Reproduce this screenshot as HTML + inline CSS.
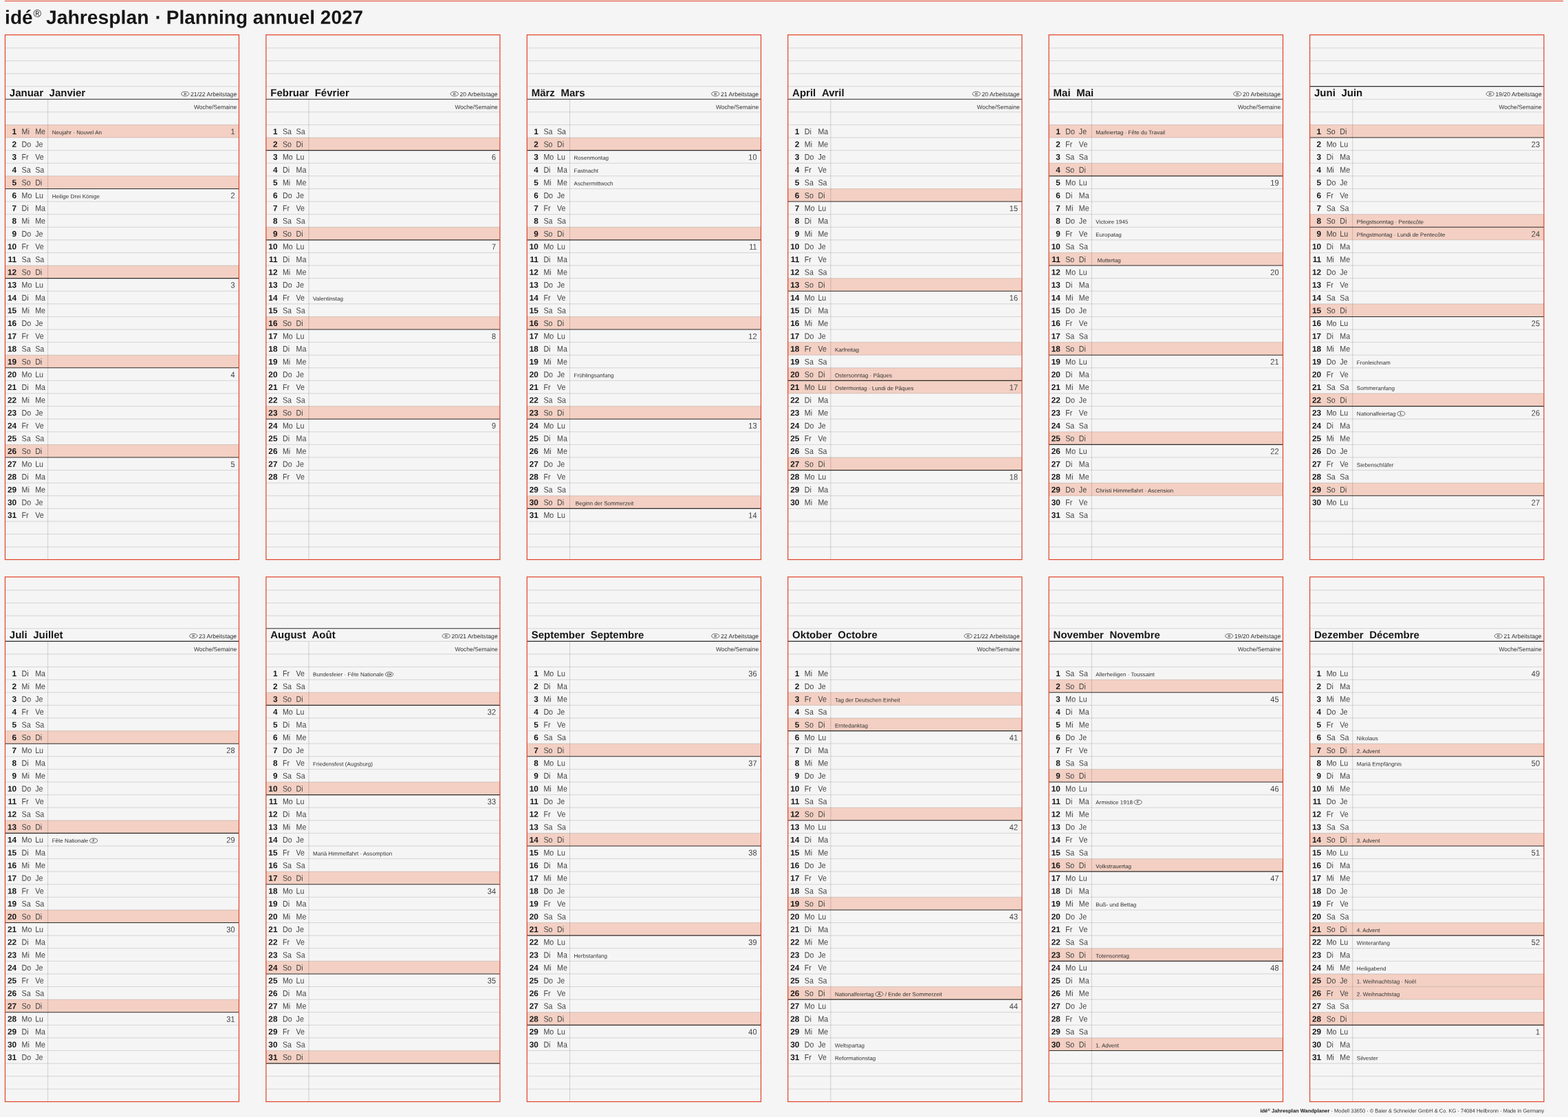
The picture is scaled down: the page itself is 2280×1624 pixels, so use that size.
<!DOCTYPE html>
<html lang="de">
<head>
<meta charset="utf-8">
<title>idé Jahresplan · Planning annuel 2027</title>
<style>
html,body{margin:0;padding:0;background:#f5f5f5}
body{width:2280px;height:1624px;overflow:hidden;font-family:"Liberation Sans",Arial,Helvetica,sans-serif}
svg{display:block;position:absolute;left:0;top:0}
svg text{font-family:"Liberation Sans",Arial,Helvetica,sans-serif;white-space:pre;text-rendering:geometricPrecision}
.e{text-anchor:end}
.ti{font-size:28px;font-weight:700;fill:#161616}
.mn{font-size:15px;font-weight:700;fill:#161616}
.dn{font-size:11.8px;font-weight:700;fill:#161616}
.wd{font-size:12px;fill:#454545}
.wk{font-size:11.8px;fill:#454545}
.ho{font-size:8.1px;fill:#303030}
.sm{font-size:8.5px;fill:#303030}
.ft{font-size:7.5px;fill:#303030}
.rg{font-size:15.5px;fill:#161616}
</style>
</head>
<body>
<svg width="2280" height="1624" viewBox="0 0 2280 1624">
<rect width="2280" height="1624" fill="#f5f5f5"/>
<path d="M6.9 1.5H2273" stroke="#e14228" stroke-width="1.15" fill="none"/>
<g fill="#f3d0c3">
<rect x="7.43" y="181.46" width="340.05" height="18.6"/>
<rect x="7.43" y="255.85" width="340.05" height="18.6"/>
<rect x="7.43" y="386.03" width="340.05" height="18.6"/>
<rect x="7.43" y="516.22" width="340.05" height="18.6"/>
<rect x="7.43" y="646.41" width="340.05" height="18.6"/>
<rect x="386.86" y="200.05" width="340.12" height="18.6"/>
<rect x="386.86" y="330.24" width="340.12" height="18.6"/>
<rect x="386.86" y="460.43" width="340.12" height="18.6"/>
<rect x="386.86" y="590.61" width="340.12" height="18.6"/>
<rect x="766.29" y="200.05" width="340.19" height="18.6"/>
<rect x="766.29" y="330.24" width="340.19" height="18.6"/>
<rect x="766.29" y="460.43" width="340.19" height="18.6"/>
<rect x="766.29" y="590.61" width="340.19" height="18.6"/>
<rect x="766.29" y="720.8" width="340.19" height="18.6"/>
<rect x="1145.72" y="274.45" width="340.26" height="18.6"/>
<rect x="1145.72" y="404.63" width="340.26" height="18.6"/>
<rect x="1145.72" y="497.62" width="340.26" height="18.6"/>
<rect x="1145.72" y="534.82" width="340.26" height="18.6"/>
<rect x="1145.72" y="553.42" width="340.26" height="18.6"/>
<rect x="1145.72" y="665" width="340.26" height="18.6"/>
<rect x="1525.15" y="181.46" width="340.33" height="18.6"/>
<rect x="1525.15" y="237.25" width="340.33" height="18.6"/>
<rect x="1525.15" y="367.44" width="340.33" height="18.6"/>
<rect x="1525.15" y="497.62" width="340.33" height="18.6"/>
<rect x="1525.15" y="627.81" width="340.33" height="18.6"/>
<rect x="1525.15" y="702.2" width="340.33" height="18.6"/>
<rect x="1904.58" y="181.46" width="340.4" height="18.6"/>
<rect x="1904.58" y="311.64" width="340.4" height="18.6"/>
<rect x="1904.58" y="330.24" width="340.4" height="18.6"/>
<rect x="1904.58" y="441.83" width="340.4" height="18.6"/>
<rect x="1904.58" y="572.01" width="340.4" height="18.6"/>
<rect x="1904.58" y="702.2" width="340.4" height="18.6"/>
<rect x="7.43" y="1062.59" width="340.05" height="18.6"/>
<rect x="7.43" y="1192.77" width="340.05" height="18.6"/>
<rect x="7.43" y="1322.96" width="340.05" height="18.6"/>
<rect x="7.43" y="1453.14" width="340.05" height="18.6"/>
<rect x="386.86" y="1006.79" width="340.12" height="18.6"/>
<rect x="386.86" y="1136.98" width="340.12" height="18.6"/>
<rect x="386.86" y="1267.16" width="340.12" height="18.6"/>
<rect x="386.86" y="1397.35" width="340.12" height="18.6"/>
<rect x="386.86" y="1527.54" width="340.12" height="18.6"/>
<rect x="766.29" y="1081.18" width="340.19" height="18.6"/>
<rect x="766.29" y="1211.37" width="340.19" height="18.6"/>
<rect x="766.29" y="1341.56" width="340.19" height="18.6"/>
<rect x="766.29" y="1471.74" width="340.19" height="18.6"/>
<rect x="1145.72" y="1006.79" width="340.26" height="18.6"/>
<rect x="1145.72" y="1043.99" width="340.26" height="18.6"/>
<rect x="1145.72" y="1174.17" width="340.26" height="18.6"/>
<rect x="1145.72" y="1304.36" width="340.26" height="18.6"/>
<rect x="1145.72" y="1434.55" width="340.26" height="18.6"/>
<rect x="1525.15" y="988.19" width="340.33" height="18.6"/>
<rect x="1525.15" y="1118.38" width="340.33" height="18.6"/>
<rect x="1525.15" y="1248.57" width="340.33" height="18.6"/>
<rect x="1525.15" y="1378.75" width="340.33" height="18.6"/>
<rect x="1525.15" y="1508.94" width="340.33" height="18.6"/>
<rect x="1904.58" y="1081.18" width="340.4" height="18.6"/>
<rect x="1904.58" y="1211.37" width="340.4" height="18.6"/>
<rect x="1904.58" y="1341.56" width="340.4" height="18.6"/>
<rect x="1904.58" y="1415.95" width="340.4" height="18.6"/>
<rect x="1904.58" y="1434.55" width="340.4" height="18.6"/>
<rect x="1904.58" y="1471.74" width="340.4" height="18.6"/>
</g>
<path fill="none" stroke="rgba(0,0,0,0.15)" stroke-width="0.9" d="M7.43 69.87H347.48M7.43 88.47H347.48M7.43 107.06H347.48M7.43 125.66H347.48M7.43 162.86H347.48M7.43 181.46H347.48M7.43 200.05H347.48M7.43 218.65H347.48M7.43 237.25H347.48M7.43 255.85H347.48M7.43 293.04H347.48M7.43 311.64H347.48M7.43 330.24H347.48M7.43 348.84H347.48M7.43 367.44H347.48M7.43 386.03H347.48M7.43 423.23H347.48M7.43 441.83H347.48M7.43 460.43H347.48M7.43 479.02H347.48M7.43 497.62H347.48M7.43 516.22H347.48M7.43 553.42H347.48M7.43 572.01H347.48M7.43 590.61H347.48M7.43 609.21H347.48M7.43 627.81H347.48M7.43 646.41H347.48M7.43 683.6H347.48M7.43 702.2H347.48M7.43 720.8H347.48M7.43 739.4H347.48M7.43 757.99H347.48M7.43 776.59H347.48M7.43 795.19H347.48M386.86 69.87H726.98M386.86 88.47H726.98M386.86 107.06H726.98M386.86 125.66H726.98M386.86 162.86H726.98M386.86 181.46H726.98M386.86 200.05H726.98M386.86 237.25H726.98M386.86 255.85H726.98M386.86 274.45H726.98M386.86 293.04H726.98M386.86 311.64H726.98M386.86 330.24H726.98M386.86 367.44H726.98M386.86 386.03H726.98M386.86 404.63H726.98M386.86 423.23H726.98M386.86 441.83H726.98M386.86 460.43H726.98M386.86 497.62H726.98M386.86 516.22H726.98M386.86 534.82H726.98M386.86 553.42H726.98M386.86 572.01H726.98M386.86 590.61H726.98M386.86 627.81H726.98M386.86 646.41H726.98M386.86 665H726.98M386.86 683.6H726.98M386.86 702.2H726.98M386.86 720.8H726.98M386.86 739.4H726.98M386.86 757.99H726.98M386.86 776.59H726.98M386.86 795.19H726.98M766.29 69.87H1106.48M766.29 88.47H1106.48M766.29 107.06H1106.48M766.29 125.66H1106.48M766.29 162.86H1106.48M766.29 181.46H1106.48M766.29 200.05H1106.48M766.29 237.25H1106.48M766.29 255.85H1106.48M766.29 274.45H1106.48M766.29 293.04H1106.48M766.29 311.64H1106.48M766.29 330.24H1106.48M766.29 367.44H1106.48M766.29 386.03H1106.48M766.29 404.63H1106.48M766.29 423.23H1106.48M766.29 441.83H1106.48M766.29 460.43H1106.48M766.29 497.62H1106.48M766.29 516.22H1106.48M766.29 534.82H1106.48M766.29 553.42H1106.48M766.29 572.01H1106.48M766.29 590.61H1106.48M766.29 627.81H1106.48M766.29 646.41H1106.48M766.29 665H1106.48M766.29 683.6H1106.48M766.29 702.2H1106.48M766.29 720.8H1106.48M766.29 757.99H1106.48M766.29 776.59H1106.48M766.29 795.19H1106.48M1145.72 69.87H1485.98M1145.72 88.47H1485.98M1145.72 107.06H1485.98M1145.72 125.66H1485.98M1145.72 162.86H1485.98M1145.72 181.46H1485.98M1145.72 200.05H1485.98M1145.72 218.65H1485.98M1145.72 237.25H1485.98M1145.72 255.85H1485.98M1145.72 274.45H1485.98M1145.72 311.64H1485.98M1145.72 330.24H1485.98M1145.72 348.84H1485.98M1145.72 367.44H1485.98M1145.72 386.03H1485.98M1145.72 404.63H1485.98M1145.72 441.83H1485.98M1145.72 460.43H1485.98M1145.72 479.02H1485.98M1145.72 497.62H1485.98M1145.72 516.22H1485.98M1145.72 534.82H1485.98M1145.72 572.01H1485.98M1145.72 590.61H1485.98M1145.72 609.21H1485.98M1145.72 627.81H1485.98M1145.72 646.41H1485.98M1145.72 665H1485.98M1145.72 702.2H1485.98M1145.72 720.8H1485.98M1145.72 739.4H1485.98M1145.72 757.99H1485.98M1145.72 776.59H1485.98M1145.72 795.19H1485.98M1525.15 69.87H1865.48M1525.15 88.47H1865.48M1525.15 107.06H1865.48M1525.15 125.66H1865.48M1525.15 162.86H1865.48M1525.15 181.46H1865.48M1525.15 200.05H1865.48M1525.15 218.65H1865.48M1525.15 237.25H1865.48M1525.15 274.45H1865.48M1525.15 293.04H1865.48M1525.15 311.64H1865.48M1525.15 330.24H1865.48M1525.15 348.84H1865.48M1525.15 367.44H1865.48M1525.15 404.63H1865.48M1525.15 423.23H1865.48M1525.15 441.83H1865.48M1525.15 460.43H1865.48M1525.15 479.02H1865.48M1525.15 497.62H1865.48M1525.15 534.82H1865.48M1525.15 553.42H1865.48M1525.15 572.01H1865.48M1525.15 590.61H1865.48M1525.15 609.21H1865.48M1525.15 627.81H1865.48M1525.15 665H1865.48M1525.15 683.6H1865.48M1525.15 702.2H1865.48M1525.15 720.8H1865.48M1525.15 739.4H1865.48M1525.15 757.99H1865.48M1525.15 776.59H1865.48M1525.15 795.19H1865.48M1904.58 69.87H2244.98M1904.58 88.47H2244.98M1904.58 107.06H2244.98M1904.58 144.26H2244.98M1904.58 162.86H2244.98M1904.58 181.46H2244.98M1904.58 218.65H2244.98M1904.58 237.25H2244.98M1904.58 255.85H2244.98M1904.58 274.45H2244.98M1904.58 293.04H2244.98M1904.58 311.64H2244.98M1904.58 348.84H2244.98M1904.58 367.44H2244.98M1904.58 386.03H2244.98M1904.58 404.63H2244.98M1904.58 423.23H2244.98M1904.58 441.83H2244.98M1904.58 479.02H2244.98M1904.58 497.62H2244.98M1904.58 516.22H2244.98M1904.58 534.82H2244.98M1904.58 553.42H2244.98M1904.58 572.01H2244.98M1904.58 609.21H2244.98M1904.58 627.81H2244.98M1904.58 646.41H2244.98M1904.58 665H2244.98M1904.58 683.6H2244.98M1904.58 702.2H2244.98M1904.58 739.4H2244.98M1904.58 757.99H2244.98M1904.58 776.59H2244.98M1904.58 795.19H2244.98M7.43 858.01H347.48M7.43 876.61H347.48M7.43 895.2H347.48M7.43 913.8H347.48M7.43 951H347.48M7.43 969.6H347.48M7.43 988.19H347.48M7.43 1006.79H347.48M7.43 1025.39H347.48M7.43 1043.99H347.48M7.43 1062.59H347.48M7.43 1099.78H347.48M7.43 1118.38H347.48M7.43 1136.98H347.48M7.43 1155.58H347.48M7.43 1174.17H347.48M7.43 1192.77H347.48M7.43 1229.97H347.48M7.43 1248.57H347.48M7.43 1267.16H347.48M7.43 1285.76H347.48M7.43 1304.36H347.48M7.43 1322.96H347.48M7.43 1360.15H347.48M7.43 1378.75H347.48M7.43 1397.35H347.48M7.43 1415.95H347.48M7.43 1434.55H347.48M7.43 1453.14H347.48M7.43 1490.34H347.48M7.43 1508.94H347.48M7.43 1527.54H347.48M7.43 1546.13H347.48M7.43 1564.73H347.48M7.43 1583.33H347.48M386.86 858.01H726.98M386.86 876.61H726.98M386.86 895.2H726.98M386.86 932.4H726.98M386.86 951H726.98M386.86 969.6H726.98M386.86 988.19H726.98M386.86 1006.79H726.98M386.86 1043.99H726.98M386.86 1062.59H726.98M386.86 1081.18H726.98M386.86 1099.78H726.98M386.86 1118.38H726.98M386.86 1136.98H726.98M386.86 1174.17H726.98M386.86 1192.77H726.98M386.86 1211.37H726.98M386.86 1229.97H726.98M386.86 1248.57H726.98M386.86 1267.16H726.98M386.86 1304.36H726.98M386.86 1322.96H726.98M386.86 1341.56H726.98M386.86 1360.15H726.98M386.86 1378.75H726.98M386.86 1397.35H726.98M386.86 1434.55H726.98M386.86 1453.14H726.98M386.86 1471.74H726.98M386.86 1490.34H726.98M386.86 1508.94H726.98M386.86 1527.54H726.98M386.86 1564.73H726.98M386.86 1583.33H726.98M766.29 858.01H1106.48M766.29 876.61H1106.48M766.29 895.2H1106.48M766.29 913.8H1106.48M766.29 951H1106.48M766.29 969.6H1106.48M766.29 988.19H1106.48M766.29 1006.79H1106.48M766.29 1025.39H1106.48M766.29 1043.99H1106.48M766.29 1062.59H1106.48M766.29 1081.18H1106.48M766.29 1118.38H1106.48M766.29 1136.98H1106.48M766.29 1155.58H1106.48M766.29 1174.17H1106.48M766.29 1192.77H1106.48M766.29 1211.37H1106.48M766.29 1248.57H1106.48M766.29 1267.16H1106.48M766.29 1285.76H1106.48M766.29 1304.36H1106.48M766.29 1322.96H1106.48M766.29 1341.56H1106.48M766.29 1378.75H1106.48M766.29 1397.35H1106.48M766.29 1415.95H1106.48M766.29 1434.55H1106.48M766.29 1453.14H1106.48M766.29 1471.74H1106.48M766.29 1508.94H1106.48M766.29 1527.54H1106.48M766.29 1546.13H1106.48M766.29 1564.73H1106.48M766.29 1583.33H1106.48M1145.72 858.01H1485.98M1145.72 876.61H1485.98M1145.72 895.2H1485.98M1145.72 913.8H1485.98M1145.72 951H1485.98M1145.72 969.6H1485.98M1145.72 988.19H1485.98M1145.72 1006.79H1485.98M1145.72 1025.39H1485.98M1145.72 1043.99H1485.98M1145.72 1081.18H1485.98M1145.72 1099.78H1485.98M1145.72 1118.38H1485.98M1145.72 1136.98H1485.98M1145.72 1155.58H1485.98M1145.72 1174.17H1485.98M1145.72 1211.37H1485.98M1145.72 1229.97H1485.98M1145.72 1248.57H1485.98M1145.72 1267.16H1485.98M1145.72 1285.76H1485.98M1145.72 1304.36H1485.98M1145.72 1341.56H1485.98M1145.72 1360.15H1485.98M1145.72 1378.75H1485.98M1145.72 1397.35H1485.98M1145.72 1415.95H1485.98M1145.72 1434.55H1485.98M1145.72 1471.74H1485.98M1145.72 1490.34H1485.98M1145.72 1508.94H1485.98M1145.72 1527.54H1485.98M1145.72 1546.13H1485.98M1145.72 1564.73H1485.98M1145.72 1583.33H1485.98M1525.15 858.01H1865.48M1525.15 876.61H1865.48M1525.15 895.2H1865.48M1525.15 913.8H1865.48M1525.15 951H1865.48M1525.15 969.6H1865.48M1525.15 988.19H1865.48M1525.15 1025.39H1865.48M1525.15 1043.99H1865.48M1525.15 1062.59H1865.48M1525.15 1081.18H1865.48M1525.15 1099.78H1865.48M1525.15 1118.38H1865.48M1525.15 1155.58H1865.48M1525.15 1174.17H1865.48M1525.15 1192.77H1865.48M1525.15 1211.37H1865.48M1525.15 1229.97H1865.48M1525.15 1248.57H1865.48M1525.15 1285.76H1865.48M1525.15 1304.36H1865.48M1525.15 1322.96H1865.48M1525.15 1341.56H1865.48M1525.15 1360.15H1865.48M1525.15 1378.75H1865.48M1525.15 1415.95H1865.48M1525.15 1434.55H1865.48M1525.15 1453.14H1865.48M1525.15 1471.74H1865.48M1525.15 1490.34H1865.48M1525.15 1508.94H1865.48M1525.15 1546.13H1865.48M1525.15 1564.73H1865.48M1525.15 1583.33H1865.48M1904.58 858.01H2244.98M1904.58 876.61H2244.98M1904.58 895.2H2244.98M1904.58 913.8H2244.98M1904.58 951H2244.98M1904.58 969.6H2244.98M1904.58 988.19H2244.98M1904.58 1006.79H2244.98M1904.58 1025.39H2244.98M1904.58 1043.99H2244.98M1904.58 1062.59H2244.98M1904.58 1081.18H2244.98M1904.58 1118.38H2244.98M1904.58 1136.98H2244.98M1904.58 1155.58H2244.98M1904.58 1174.17H2244.98M1904.58 1192.77H2244.98M1904.58 1211.37H2244.98M1904.58 1248.57H2244.98M1904.58 1267.16H2244.98M1904.58 1285.76H2244.98M1904.58 1304.36H2244.98M1904.58 1322.96H2244.98M1904.58 1341.56H2244.98M1904.58 1378.75H2244.98M1904.58 1397.35H2244.98M1904.58 1415.95H2244.98M1904.58 1434.55H2244.98M1904.58 1453.14H2244.98M1904.58 1471.74H2244.98M1904.58 1508.94H2244.98M1904.58 1527.54H2244.98M1904.58 1546.13H2244.98M1904.58 1564.73H2244.98M1904.58 1583.33H2244.98"/>
<path fill="none" stroke="rgba(0,0,0,0.2)" stroke-width="0.8" d="M69.63 144.26V813.79M449.06 144.26V813.79M828.49 144.26V813.79M1207.92 144.26V813.79M1587.35 144.26V813.79M1966.78 144.26V813.79M69.63 932.4V1601.93M449.06 932.4V1601.93M828.49 932.4V1601.93M1207.92 932.4V1601.93M1587.35 932.4V1601.93M1966.78 932.4V1601.93"/>
<path fill="none" stroke="#2b2b2b" stroke-width="1.1" d="M7.43 144.26H347.48M7.43 274.45H347.48M7.43 404.63H347.48M7.43 534.82H347.48M7.43 665H347.48M386.86 144.26H726.98M386.86 218.65H726.98M386.86 348.84H726.98M386.86 479.02H726.98M386.86 609.21H726.98M766.29 144.26H1106.48M766.29 218.65H1106.48M766.29 348.84H1106.48M766.29 479.02H1106.48M766.29 609.21H1106.48M766.29 739.4H1106.48M1145.72 144.26H1485.98M1145.72 293.04H1485.98M1145.72 423.23H1485.98M1145.72 553.42H1485.98M1145.72 683.6H1485.98M1525.15 144.26H1865.48M1525.15 255.85H1865.48M1525.15 386.03H1865.48M1525.15 516.22H1865.48M1525.15 646.41H1865.48M1904.58 125.66H2244.98M1904.58 200.05H2244.98M1904.58 330.24H2244.98M1904.58 460.43H2244.98M1904.58 590.61H2244.98M1904.58 720.8H2244.98M7.43 932.4H347.48M7.43 1081.18H347.48M7.43 1211.37H347.48M7.43 1341.56H347.48M7.43 1471.74H347.48M386.86 913.8H726.98M386.86 1025.39H726.98M386.86 1155.58H726.98M386.86 1285.76H726.98M386.86 1415.95H726.98M386.86 1546.13H726.98M766.29 932.4H1106.48M766.29 1099.78H1106.48M766.29 1229.97H1106.48M766.29 1360.15H1106.48M766.29 1490.34H1106.48M1145.72 932.4H1485.98M1145.72 1062.59H1485.98M1145.72 1192.77H1485.98M1145.72 1322.96H1485.98M1145.72 1453.14H1485.98M1525.15 932.4H1865.48M1525.15 1006.79H1865.48M1525.15 1136.98H1865.48M1525.15 1267.16H1865.48M1525.15 1397.35H1865.48M1525.15 1527.54H1865.48M1904.58 932.4H2244.98M1904.58 1099.78H2244.98M1904.58 1229.97H2244.98M1904.58 1360.15H2244.98M1904.58 1490.34H2244.98"/>
<g fill="none" stroke="#e14228" stroke-width="1.2">
<rect x="7.43" y="50.67" width="340.05" height="762.9"/>
<rect x="386.86" y="50.67" width="340.12" height="762.9"/>
<rect x="766.29" y="50.67" width="340.19" height="762.9"/>
<rect x="1145.72" y="50.67" width="340.26" height="762.9"/>
<rect x="1525.15" y="50.67" width="340.33" height="762.9"/>
<rect x="1904.58" y="50.67" width="340.4" height="762.9"/>
<rect x="7.43" y="838.81" width="340.05" height="762.9"/>
<rect x="386.86" y="838.81" width="340.12" height="762.9"/>
<rect x="766.29" y="838.81" width="340.19" height="762.9"/>
<rect x="1145.72" y="838.81" width="340.26" height="762.9"/>
<rect x="1525.15" y="838.81" width="340.33" height="762.9"/>
<rect x="1904.58" y="838.81" width="340.4" height="762.9"/>
</g>
<g>
<ellipse cx="269.25" cy="136.46" rx="5.7" ry="3.15" fill="none" stroke="#303030" stroke-width="0.7"/><text transform="translate(269.35 137.86) scale(1.25 1)" font-size="4" font-weight="700" text-anchor="middle" fill="#161616">D</text>
<ellipse cx="660.78" cy="136.46" rx="5.7" ry="3.15" fill="none" stroke="#303030" stroke-width="0.7"/><text transform="translate(660.88 137.86) scale(1.25 1)" font-size="4" font-weight="700" text-anchor="middle" fill="#161616">D</text>
<ellipse cx="1040.28" cy="136.46" rx="5.7" ry="3.15" fill="none" stroke="#303030" stroke-width="0.7"/><text transform="translate(1040.38 137.86) scale(1.25 1)" font-size="4" font-weight="700" text-anchor="middle" fill="#161616">D</text>
<ellipse cx="1419.78" cy="136.46" rx="5.7" ry="3.15" fill="none" stroke="#303030" stroke-width="0.7"/><text transform="translate(1419.88 137.86) scale(1.25 1)" font-size="4" font-weight="700" text-anchor="middle" fill="#161616">D</text>
<ellipse cx="1799.28" cy="136.46" rx="5.7" ry="3.15" fill="none" stroke="#303030" stroke-width="0.7"/><text transform="translate(1799.38 137.86) scale(1.25 1)" font-size="4" font-weight="700" text-anchor="middle" fill="#161616">D</text>
<ellipse cx="2166.75" cy="136.46" rx="5.7" ry="3.15" fill="none" stroke="#303030" stroke-width="0.7"/><text transform="translate(2166.85 137.86) scale(1.25 1)" font-size="4" font-weight="700" text-anchor="middle" fill="#161616">D</text>
<ellipse cx="2037.32" cy="601.41" rx="5.7" ry="3.35" fill="none" stroke="#303030" stroke-width="0.7"/><text x="2037.32" y="603.43" font-size="5.6" font-weight="700" text-anchor="middle" fill="#303030">L</text>
<ellipse cx="281.28" cy="924.6" rx="5.7" ry="3.15" fill="none" stroke="#303030" stroke-width="0.7"/><text transform="translate(281.38 926) scale(1.25 1)" font-size="4" font-weight="700" text-anchor="middle" fill="#161616">D</text>
<ellipse cx="136.11" cy="1222.17" rx="5.7" ry="3.35" fill="none" stroke="#303030" stroke-width="0.7"/><text x="136.11" y="1224.18" font-size="5.6" font-weight="700" text-anchor="middle" fill="#303030">F</text>
<ellipse cx="648.75" cy="924.6" rx="5.7" ry="3.15" fill="none" stroke="#303030" stroke-width="0.7"/><text transform="translate(648.85 926) scale(1.25 1)" font-size="4" font-weight="700" text-anchor="middle" fill="#161616">D</text>
<ellipse cx="565.97" cy="980.39" rx="5.7" ry="3.35" fill="none" stroke="#303030" stroke-width="0.7"/><text x="565.97" y="982.05" font-size="4.6" font-weight="700" text-anchor="middle" fill="#303030">CH</text>
<ellipse cx="1040.28" cy="924.6" rx="5.7" ry="3.15" fill="none" stroke="#303030" stroke-width="0.7"/><text transform="translate(1040.38 926) scale(1.25 1)" font-size="4" font-weight="700" text-anchor="middle" fill="#161616">D</text>
<ellipse cx="1407.75" cy="924.6" rx="5.7" ry="3.15" fill="none" stroke="#303030" stroke-width="0.7"/><text transform="translate(1407.85 926) scale(1.25 1)" font-size="4" font-weight="700" text-anchor="middle" fill="#161616">D</text>
<ellipse cx="1278.46" cy="1445.34" rx="5.7" ry="3.35" fill="none" stroke="#303030" stroke-width="0.7"/><text x="1278.46" y="1447.36" font-size="5.6" font-weight="700" text-anchor="middle" fill="#303030">A</text>
<ellipse cx="1787.25" cy="924.6" rx="5.7" ry="3.15" fill="none" stroke="#303030" stroke-width="0.7"/><text transform="translate(1787.35 926) scale(1.25 1)" font-size="4" font-weight="700" text-anchor="middle" fill="#161616">D</text>
<ellipse cx="1654.72" cy="1166.37" rx="5.7" ry="3.35" fill="none" stroke="#303030" stroke-width="0.7"/><text x="1654.72" y="1168.39" font-size="5.6" font-weight="700" text-anchor="middle" fill="#303030">F</text>
<ellipse cx="2178.78" cy="924.6" rx="5.7" ry="3.15" fill="none" stroke="#303030" stroke-width="0.7"/><text transform="translate(2178.88 926) scale(1.25 1)" font-size="4" font-weight="700" text-anchor="middle" fill="#161616">D</text>
</g>
<text class="ti" transform="matrix(1 0.0005 0 1 7.1 34.65)">idé</text>
<text class="rg" transform="matrix(1 0.0005 0 1 48.4 24.7)">®</text>
<text class="ti" transform="matrix(1.01 0.0005 0 1 67.1 34.65)">Jahresplan</text>
<text class="ti" transform="matrix(1 0.0005 0 1 225.53 34.65)">·</text>
<text class="ti" transform="matrix(1 0.0005 0 1 241.83 34.65)">Planning annuel 2027</text>
<text class="mn" transform="matrix(1 0.0005 0 1 13.83 139.96)">Januar</text>
<text class="mn" transform="matrix(1 0.0005 0 1 71.62 139.96)">Janvier</text>
<text class="sm e" style="font-size:8.65px" transform="matrix(1 0.0005 0 1 344.18 139.96)">21/22 Arbeitstage</text>
<text class="sm e" transform="matrix(1 0.0005 0 1 344.18 158.56)">Woche/Semaine</text>
<text class="dn e" transform="matrix(1 0.0005 0 1 24.03 195.15)">1</text>
<text class="wd" transform="matrix(0.89 0.0005 0 1 31.53 195.15)">Mi</text>
<text class="wd" transform="matrix(0.89 0.0005 0 1 51.13 195.15)">Me</text>
<text class="wk e" transform="matrix(0.93 0.0005 0 1 341.58 195.35)">1</text>
<text class="ho" transform="matrix(1 0.0005 0 1 75.63 195.15)">Neujahr · Nouvel An</text>
<text class="dn e" transform="matrix(1 0.0005 0 1 24.03 213.75)">2</text>
<text class="wd" transform="matrix(0.89 0.0005 0 1 31.53 213.75)">Do</text>
<text class="wd" transform="matrix(0.89 0.0005 0 1 51.13 213.75)">Je</text>
<text class="dn e" transform="matrix(1 0.0005 0 1 24.03 232.35)">3</text>
<text class="wd" transform="matrix(0.89 0.0005 0 1 31.53 232.35)">Fr</text>
<text class="wd" transform="matrix(0.89 0.0005 0 1 51.13 232.35)">Ve</text>
<text class="dn e" transform="matrix(1 0.0005 0 1 24.03 250.95)">4</text>
<text class="wd" transform="matrix(0.89 0.0005 0 1 31.53 250.95)">Sa</text>
<text class="wd" transform="matrix(0.89 0.0005 0 1 51.13 250.95)">Sa</text>
<text class="dn e" transform="matrix(1 0.0005 0 1 24.03 269.55)">5</text>
<text class="wd" transform="matrix(0.89 0.0005 0 1 31.53 269.55)">So</text>
<text class="wd" transform="matrix(0.89 0.0005 0 1 51.13 269.55)">Di</text>
<text class="dn e" transform="matrix(1 0.0005 0 1 24.03 288.14)">6</text>
<text class="wd" transform="matrix(0.89 0.0005 0 1 31.53 288.14)">Mo</text>
<text class="wd" transform="matrix(0.89 0.0005 0 1 51.13 288.14)">Lu</text>
<text class="wk e" transform="matrix(0.93 0.0005 0 1 341.58 288.34)">2</text>
<text class="ho" transform="matrix(1 0.0005 0 1 75.63 288.14)">Heilige Drei Könige</text>
<text class="dn e" transform="matrix(1 0.0005 0 1 24.03 306.74)">7</text>
<text class="wd" transform="matrix(0.89 0.0005 0 1 31.53 306.74)">Di</text>
<text class="wd" transform="matrix(0.89 0.0005 0 1 51.13 306.74)">Ma</text>
<text class="dn e" transform="matrix(1 0.0005 0 1 24.03 325.34)">8</text>
<text class="wd" transform="matrix(0.89 0.0005 0 1 31.53 325.34)">Mi</text>
<text class="wd" transform="matrix(0.89 0.0005 0 1 51.13 325.34)">Me</text>
<text class="dn e" transform="matrix(1 0.0005 0 1 24.03 343.94)">9</text>
<text class="wd" transform="matrix(0.89 0.0005 0 1 31.53 343.94)">Do</text>
<text class="wd" transform="matrix(0.89 0.0005 0 1 51.13 343.94)">Je</text>
<text class="dn e" transform="matrix(1 0.0005 0 1 24.03 362.54)">10</text>
<text class="wd" transform="matrix(0.89 0.0005 0 1 31.53 362.54)">Fr</text>
<text class="wd" transform="matrix(0.89 0.0005 0 1 51.13 362.54)">Ve</text>
<text class="dn e" transform="matrix(1 0.0005 0 1 24.03 381.13)">11</text>
<text class="wd" transform="matrix(0.89 0.0005 0 1 31.53 381.13)">Sa</text>
<text class="wd" transform="matrix(0.89 0.0005 0 1 51.13 381.13)">Sa</text>
<text class="dn e" transform="matrix(1 0.0005 0 1 24.03 399.73)">12</text>
<text class="wd" transform="matrix(0.89 0.0005 0 1 31.53 399.73)">So</text>
<text class="wd" transform="matrix(0.89 0.0005 0 1 51.13 399.73)">Di</text>
<text class="dn e" transform="matrix(1 0.0005 0 1 24.03 418.33)">13</text>
<text class="wd" transform="matrix(0.89 0.0005 0 1 31.53 418.33)">Mo</text>
<text class="wd" transform="matrix(0.89 0.0005 0 1 51.13 418.33)">Lu</text>
<text class="wk e" transform="matrix(0.93 0.0005 0 1 341.58 418.53)">3</text>
<text class="dn e" transform="matrix(1 0.0005 0 1 24.03 436.93)">14</text>
<text class="wd" transform="matrix(0.89 0.0005 0 1 31.53 436.93)">Di</text>
<text class="wd" transform="matrix(0.89 0.0005 0 1 51.13 436.93)">Ma</text>
<text class="dn e" transform="matrix(1 0.0005 0 1 24.03 455.53)">15</text>
<text class="wd" transform="matrix(0.89 0.0005 0 1 31.53 455.53)">Mi</text>
<text class="wd" transform="matrix(0.89 0.0005 0 1 51.13 455.53)">Me</text>
<text class="dn e" transform="matrix(1 0.0005 0 1 24.03 474.12)">16</text>
<text class="wd" transform="matrix(0.89 0.0005 0 1 31.53 474.12)">Do</text>
<text class="wd" transform="matrix(0.89 0.0005 0 1 51.13 474.12)">Je</text>
<text class="dn e" transform="matrix(1 0.0005 0 1 24.03 492.72)">17</text>
<text class="wd" transform="matrix(0.89 0.0005 0 1 31.53 492.72)">Fr</text>
<text class="wd" transform="matrix(0.89 0.0005 0 1 51.13 492.72)">Ve</text>
<text class="dn e" transform="matrix(1 0.0005 0 1 24.03 511.32)">18</text>
<text class="wd" transform="matrix(0.89 0.0005 0 1 31.53 511.32)">Sa</text>
<text class="wd" transform="matrix(0.89 0.0005 0 1 51.13 511.32)">Sa</text>
<text class="dn e" transform="matrix(1 0.0005 0 1 24.03 529.92)">19</text>
<text class="wd" transform="matrix(0.89 0.0005 0 1 31.53 529.92)">So</text>
<text class="wd" transform="matrix(0.89 0.0005 0 1 51.13 529.92)">Di</text>
<text class="dn e" transform="matrix(1 0.0005 0 1 24.03 548.52)">20</text>
<text class="wd" transform="matrix(0.89 0.0005 0 1 31.53 548.52)">Mo</text>
<text class="wd" transform="matrix(0.89 0.0005 0 1 51.13 548.52)">Lu</text>
<text class="wk e" transform="matrix(0.93 0.0005 0 1 341.58 548.72)">4</text>
<text class="dn e" transform="matrix(1 0.0005 0 1 24.03 567.11)">21</text>
<text class="wd" transform="matrix(0.89 0.0005 0 1 31.53 567.11)">Di</text>
<text class="wd" transform="matrix(0.89 0.0005 0 1 51.13 567.11)">Ma</text>
<text class="dn e" transform="matrix(1 0.0005 0 1 24.03 585.71)">22</text>
<text class="wd" transform="matrix(0.89 0.0005 0 1 31.53 585.71)">Mi</text>
<text class="wd" transform="matrix(0.89 0.0005 0 1 51.13 585.71)">Me</text>
<text class="dn e" transform="matrix(1 0.0005 0 1 24.03 604.31)">23</text>
<text class="wd" transform="matrix(0.89 0.0005 0 1 31.53 604.31)">Do</text>
<text class="wd" transform="matrix(0.89 0.0005 0 1 51.13 604.31)">Je</text>
<text class="dn e" transform="matrix(1 0.0005 0 1 24.03 622.91)">24</text>
<text class="wd" transform="matrix(0.89 0.0005 0 1 31.53 622.91)">Fr</text>
<text class="wd" transform="matrix(0.89 0.0005 0 1 51.13 622.91)">Ve</text>
<text class="dn e" transform="matrix(1 0.0005 0 1 24.03 641.51)">25</text>
<text class="wd" transform="matrix(0.89 0.0005 0 1 31.53 641.51)">Sa</text>
<text class="wd" transform="matrix(0.89 0.0005 0 1 51.13 641.51)">Sa</text>
<text class="dn e" transform="matrix(1 0.0005 0 1 24.03 660.1)">26</text>
<text class="wd" transform="matrix(0.89 0.0005 0 1 31.53 660.1)">So</text>
<text class="wd" transform="matrix(0.89 0.0005 0 1 51.13 660.1)">Di</text>
<text class="dn e" transform="matrix(1 0.0005 0 1 24.03 678.7)">27</text>
<text class="wd" transform="matrix(0.89 0.0005 0 1 31.53 678.7)">Mo</text>
<text class="wd" transform="matrix(0.89 0.0005 0 1 51.13 678.7)">Lu</text>
<text class="wk e" transform="matrix(0.93 0.0005 0 1 341.58 678.9)">5</text>
<text class="dn e" transform="matrix(1 0.0005 0 1 24.03 697.3)">28</text>
<text class="wd" transform="matrix(0.89 0.0005 0 1 31.53 697.3)">Di</text>
<text class="wd" transform="matrix(0.89 0.0005 0 1 51.13 697.3)">Ma</text>
<text class="dn e" transform="matrix(1 0.0005 0 1 24.03 715.9)">29</text>
<text class="wd" transform="matrix(0.89 0.0005 0 1 31.53 715.9)">Mi</text>
<text class="wd" transform="matrix(0.89 0.0005 0 1 51.13 715.9)">Me</text>
<text class="dn e" transform="matrix(1 0.0005 0 1 24.03 734.5)">30</text>
<text class="wd" transform="matrix(0.89 0.0005 0 1 31.53 734.5)">Do</text>
<text class="wd" transform="matrix(0.89 0.0005 0 1 51.13 734.5)">Je</text>
<text class="dn e" transform="matrix(1 0.0005 0 1 24.03 753.09)">31</text>
<text class="wd" transform="matrix(0.89 0.0005 0 1 31.53 753.09)">Fr</text>
<text class="wd" transform="matrix(0.89 0.0005 0 1 51.13 753.09)">Ve</text>
<text class="mn" transform="matrix(1 0.0005 0 1 393.26 139.96)">Februar</text>
<text class="mn" transform="matrix(1 0.0005 0 1 457.71 139.96)">Février</text>
<text class="sm e" style="font-size:8.65px" transform="matrix(1 0.0005 0 1 723.68 139.96)">20 Arbeitstage</text>
<text class="sm e" transform="matrix(1 0.0005 0 1 723.68 158.56)">Woche/Semaine</text>
<text class="dn e" transform="matrix(1 0.0005 0 1 403.46 195.15)">1</text>
<text class="wd" transform="matrix(0.89 0.0005 0 1 410.96 195.15)">Sa</text>
<text class="wd" transform="matrix(0.89 0.0005 0 1 430.56 195.15)">Sa</text>
<text class="dn e" transform="matrix(1 0.0005 0 1 403.46 213.75)">2</text>
<text class="wd" transform="matrix(0.89 0.0005 0 1 410.96 213.75)">So</text>
<text class="wd" transform="matrix(0.89 0.0005 0 1 430.56 213.75)">Di</text>
<text class="dn e" transform="matrix(1 0.0005 0 1 403.46 232.35)">3</text>
<text class="wd" transform="matrix(0.89 0.0005 0 1 410.96 232.35)">Mo</text>
<text class="wd" transform="matrix(0.89 0.0005 0 1 430.56 232.35)">Lu</text>
<text class="wk e" transform="matrix(0.93 0.0005 0 1 721.08 232.55)">6</text>
<text class="dn e" transform="matrix(1 0.0005 0 1 403.46 250.95)">4</text>
<text class="wd" transform="matrix(0.89 0.0005 0 1 410.96 250.95)">Di</text>
<text class="wd" transform="matrix(0.89 0.0005 0 1 430.56 250.95)">Ma</text>
<text class="dn e" transform="matrix(1 0.0005 0 1 403.46 269.55)">5</text>
<text class="wd" transform="matrix(0.89 0.0005 0 1 410.96 269.55)">Mi</text>
<text class="wd" transform="matrix(0.89 0.0005 0 1 430.56 269.55)">Me</text>
<text class="dn e" transform="matrix(1 0.0005 0 1 403.46 288.14)">6</text>
<text class="wd" transform="matrix(0.89 0.0005 0 1 410.96 288.14)">Do</text>
<text class="wd" transform="matrix(0.89 0.0005 0 1 430.56 288.14)">Je</text>
<text class="dn e" transform="matrix(1 0.0005 0 1 403.46 306.74)">7</text>
<text class="wd" transform="matrix(0.89 0.0005 0 1 410.96 306.74)">Fr</text>
<text class="wd" transform="matrix(0.89 0.0005 0 1 430.56 306.74)">Ve</text>
<text class="dn e" transform="matrix(1 0.0005 0 1 403.46 325.34)">8</text>
<text class="wd" transform="matrix(0.89 0.0005 0 1 410.96 325.34)">Sa</text>
<text class="wd" transform="matrix(0.89 0.0005 0 1 430.56 325.34)">Sa</text>
<text class="dn e" transform="matrix(1 0.0005 0 1 403.46 343.94)">9</text>
<text class="wd" transform="matrix(0.89 0.0005 0 1 410.96 343.94)">So</text>
<text class="wd" transform="matrix(0.89 0.0005 0 1 430.56 343.94)">Di</text>
<text class="dn e" transform="matrix(1 0.0005 0 1 403.46 362.54)">10</text>
<text class="wd" transform="matrix(0.89 0.0005 0 1 410.96 362.54)">Mo</text>
<text class="wd" transform="matrix(0.89 0.0005 0 1 430.56 362.54)">Lu</text>
<text class="wk e" transform="matrix(0.93 0.0005 0 1 721.08 362.74)">7</text>
<text class="dn e" transform="matrix(1 0.0005 0 1 403.46 381.13)">11</text>
<text class="wd" transform="matrix(0.89 0.0005 0 1 410.96 381.13)">Di</text>
<text class="wd" transform="matrix(0.89 0.0005 0 1 430.56 381.13)">Ma</text>
<text class="dn e" transform="matrix(1 0.0005 0 1 403.46 399.73)">12</text>
<text class="wd" transform="matrix(0.89 0.0005 0 1 410.96 399.73)">Mi</text>
<text class="wd" transform="matrix(0.89 0.0005 0 1 430.56 399.73)">Me</text>
<text class="dn e" transform="matrix(1 0.0005 0 1 403.46 418.33)">13</text>
<text class="wd" transform="matrix(0.89 0.0005 0 1 410.96 418.33)">Do</text>
<text class="wd" transform="matrix(0.89 0.0005 0 1 430.56 418.33)">Je</text>
<text class="dn e" transform="matrix(1 0.0005 0 1 403.46 436.93)">14</text>
<text class="wd" transform="matrix(0.89 0.0005 0 1 410.96 436.93)">Fr</text>
<text class="wd" transform="matrix(0.89 0.0005 0 1 430.56 436.93)">Ve</text>
<text class="ho" transform="matrix(1 0.0005 0 1 455.06 436.93)">Valentinstag</text>
<text class="dn e" transform="matrix(1 0.0005 0 1 403.46 455.53)">15</text>
<text class="wd" transform="matrix(0.89 0.0005 0 1 410.96 455.53)">Sa</text>
<text class="wd" transform="matrix(0.89 0.0005 0 1 430.56 455.53)">Sa</text>
<text class="dn e" transform="matrix(1 0.0005 0 1 403.46 474.12)">16</text>
<text class="wd" transform="matrix(0.89 0.0005 0 1 410.96 474.12)">So</text>
<text class="wd" transform="matrix(0.89 0.0005 0 1 430.56 474.12)">Di</text>
<text class="dn e" transform="matrix(1 0.0005 0 1 403.46 492.72)">17</text>
<text class="wd" transform="matrix(0.89 0.0005 0 1 410.96 492.72)">Mo</text>
<text class="wd" transform="matrix(0.89 0.0005 0 1 430.56 492.72)">Lu</text>
<text class="wk e" transform="matrix(0.93 0.0005 0 1 721.08 492.92)">8</text>
<text class="dn e" transform="matrix(1 0.0005 0 1 403.46 511.32)">18</text>
<text class="wd" transform="matrix(0.89 0.0005 0 1 410.96 511.32)">Di</text>
<text class="wd" transform="matrix(0.89 0.0005 0 1 430.56 511.32)">Ma</text>
<text class="dn e" transform="matrix(1 0.0005 0 1 403.46 529.92)">19</text>
<text class="wd" transform="matrix(0.89 0.0005 0 1 410.96 529.92)">Mi</text>
<text class="wd" transform="matrix(0.89 0.0005 0 1 430.56 529.92)">Me</text>
<text class="dn e" transform="matrix(1 0.0005 0 1 403.46 548.52)">20</text>
<text class="wd" transform="matrix(0.89 0.0005 0 1 410.96 548.52)">Do</text>
<text class="wd" transform="matrix(0.89 0.0005 0 1 430.56 548.52)">Je</text>
<text class="dn e" transform="matrix(1 0.0005 0 1 403.46 567.11)">21</text>
<text class="wd" transform="matrix(0.89 0.0005 0 1 410.96 567.11)">Fr</text>
<text class="wd" transform="matrix(0.89 0.0005 0 1 430.56 567.11)">Ve</text>
<text class="dn e" transform="matrix(1 0.0005 0 1 403.46 585.71)">22</text>
<text class="wd" transform="matrix(0.89 0.0005 0 1 410.96 585.71)">Sa</text>
<text class="wd" transform="matrix(0.89 0.0005 0 1 430.56 585.71)">Sa</text>
<text class="dn e" transform="matrix(1 0.0005 0 1 403.46 604.31)">23</text>
<text class="wd" transform="matrix(0.89 0.0005 0 1 410.96 604.31)">So</text>
<text class="wd" transform="matrix(0.89 0.0005 0 1 430.56 604.31)">Di</text>
<text class="dn e" transform="matrix(1 0.0005 0 1 403.46 622.91)">24</text>
<text class="wd" transform="matrix(0.89 0.0005 0 1 410.96 622.91)">Mo</text>
<text class="wd" transform="matrix(0.89 0.0005 0 1 430.56 622.91)">Lu</text>
<text class="wk e" transform="matrix(0.93 0.0005 0 1 721.08 623.11)">9</text>
<text class="dn e" transform="matrix(1 0.0005 0 1 403.46 641.51)">25</text>
<text class="wd" transform="matrix(0.89 0.0005 0 1 410.96 641.51)">Di</text>
<text class="wd" transform="matrix(0.89 0.0005 0 1 430.56 641.51)">Ma</text>
<text class="dn e" transform="matrix(1 0.0005 0 1 403.46 660.1)">26</text>
<text class="wd" transform="matrix(0.89 0.0005 0 1 410.96 660.1)">Mi</text>
<text class="wd" transform="matrix(0.89 0.0005 0 1 430.56 660.1)">Me</text>
<text class="dn e" transform="matrix(1 0.0005 0 1 403.46 678.7)">27</text>
<text class="wd" transform="matrix(0.89 0.0005 0 1 410.96 678.7)">Do</text>
<text class="wd" transform="matrix(0.89 0.0005 0 1 430.56 678.7)">Je</text>
<text class="dn e" transform="matrix(1 0.0005 0 1 403.46 697.3)">28</text>
<text class="wd" transform="matrix(0.89 0.0005 0 1 410.96 697.3)">Fr</text>
<text class="wd" transform="matrix(0.89 0.0005 0 1 430.56 697.3)">Ve</text>
<text class="mn" transform="matrix(1 0.0005 0 1 772.69 139.96)">März</text>
<text class="mn" transform="matrix(1 0.0005 0 1 815.46 139.96)">Mars</text>
<text class="sm e" style="font-size:8.65px" transform="matrix(1 0.0005 0 1 1103.18 139.96)">21 Arbeitstage</text>
<text class="sm e" transform="matrix(1 0.0005 0 1 1103.18 158.56)">Woche/Semaine</text>
<text class="dn e" transform="matrix(1 0.0005 0 1 782.89 195.15)">1</text>
<text class="wd" transform="matrix(0.89 0.0005 0 1 790.39 195.15)">Sa</text>
<text class="wd" transform="matrix(0.89 0.0005 0 1 809.99 195.15)">Sa</text>
<text class="dn e" transform="matrix(1 0.0005 0 1 782.89 213.75)">2</text>
<text class="wd" transform="matrix(0.89 0.0005 0 1 790.39 213.75)">So</text>
<text class="wd" transform="matrix(0.89 0.0005 0 1 809.99 213.75)">Di</text>
<text class="dn e" transform="matrix(1 0.0005 0 1 782.89 232.35)">3</text>
<text class="wd" transform="matrix(0.89 0.0005 0 1 790.39 232.35)">Mo</text>
<text class="wd" transform="matrix(0.89 0.0005 0 1 809.99 232.35)">Lu</text>
<text class="wk e" transform="matrix(0.93 0.0005 0 1 1100.58 232.55)">10</text>
<text class="ho" transform="matrix(1 0.0005 0 1 834.49 232.35)">Rosenmontag</text>
<text class="dn e" transform="matrix(1 0.0005 0 1 782.89 250.95)">4</text>
<text class="wd" transform="matrix(0.89 0.0005 0 1 790.39 250.95)">Di</text>
<text class="wd" transform="matrix(0.89 0.0005 0 1 809.99 250.95)">Ma</text>
<text class="ho" transform="matrix(1 0.0005 0 1 834.49 250.95)">Fastnacht</text>
<text class="dn e" transform="matrix(1 0.0005 0 1 782.89 269.55)">5</text>
<text class="wd" transform="matrix(0.89 0.0005 0 1 790.39 269.55)">Mi</text>
<text class="wd" transform="matrix(0.89 0.0005 0 1 809.99 269.55)">Me</text>
<text class="ho" transform="matrix(1 0.0005 0 1 834.49 269.55)">Aschermittwoch</text>
<text class="dn e" transform="matrix(1 0.0005 0 1 782.89 288.14)">6</text>
<text class="wd" transform="matrix(0.89 0.0005 0 1 790.39 288.14)">Do</text>
<text class="wd" transform="matrix(0.89 0.0005 0 1 809.99 288.14)">Je</text>
<text class="dn e" transform="matrix(1 0.0005 0 1 782.89 306.74)">7</text>
<text class="wd" transform="matrix(0.89 0.0005 0 1 790.39 306.74)">Fr</text>
<text class="wd" transform="matrix(0.89 0.0005 0 1 809.99 306.74)">Ve</text>
<text class="dn e" transform="matrix(1 0.0005 0 1 782.89 325.34)">8</text>
<text class="wd" transform="matrix(0.89 0.0005 0 1 790.39 325.34)">Sa</text>
<text class="wd" transform="matrix(0.89 0.0005 0 1 809.99 325.34)">Sa</text>
<text class="dn e" transform="matrix(1 0.0005 0 1 782.89 343.94)">9</text>
<text class="wd" transform="matrix(0.89 0.0005 0 1 790.39 343.94)">So</text>
<text class="wd" transform="matrix(0.89 0.0005 0 1 809.99 343.94)">Di</text>
<text class="dn e" transform="matrix(1 0.0005 0 1 782.89 362.54)">10</text>
<text class="wd" transform="matrix(0.89 0.0005 0 1 790.39 362.54)">Mo</text>
<text class="wd" transform="matrix(0.89 0.0005 0 1 809.99 362.54)">Lu</text>
<text class="wk e" transform="matrix(0.93 0.0005 0 1 1100.58 362.74)">11</text>
<text class="dn e" transform="matrix(1 0.0005 0 1 782.89 381.13)">11</text>
<text class="wd" transform="matrix(0.89 0.0005 0 1 790.39 381.13)">Di</text>
<text class="wd" transform="matrix(0.89 0.0005 0 1 809.99 381.13)">Ma</text>
<text class="dn e" transform="matrix(1 0.0005 0 1 782.89 399.73)">12</text>
<text class="wd" transform="matrix(0.89 0.0005 0 1 790.39 399.73)">Mi</text>
<text class="wd" transform="matrix(0.89 0.0005 0 1 809.99 399.73)">Me</text>
<text class="dn e" transform="matrix(1 0.0005 0 1 782.89 418.33)">13</text>
<text class="wd" transform="matrix(0.89 0.0005 0 1 790.39 418.33)">Do</text>
<text class="wd" transform="matrix(0.89 0.0005 0 1 809.99 418.33)">Je</text>
<text class="dn e" transform="matrix(1 0.0005 0 1 782.89 436.93)">14</text>
<text class="wd" transform="matrix(0.89 0.0005 0 1 790.39 436.93)">Fr</text>
<text class="wd" transform="matrix(0.89 0.0005 0 1 809.99 436.93)">Ve</text>
<text class="dn e" transform="matrix(1 0.0005 0 1 782.89 455.53)">15</text>
<text class="wd" transform="matrix(0.89 0.0005 0 1 790.39 455.53)">Sa</text>
<text class="wd" transform="matrix(0.89 0.0005 0 1 809.99 455.53)">Sa</text>
<text class="dn e" transform="matrix(1 0.0005 0 1 782.89 474.12)">16</text>
<text class="wd" transform="matrix(0.89 0.0005 0 1 790.39 474.12)">So</text>
<text class="wd" transform="matrix(0.89 0.0005 0 1 809.99 474.12)">Di</text>
<text class="dn e" transform="matrix(1 0.0005 0 1 782.89 492.72)">17</text>
<text class="wd" transform="matrix(0.89 0.0005 0 1 790.39 492.72)">Mo</text>
<text class="wd" transform="matrix(0.89 0.0005 0 1 809.99 492.72)">Lu</text>
<text class="wk e" transform="matrix(0.93 0.0005 0 1 1100.58 492.92)">12</text>
<text class="dn e" transform="matrix(1 0.0005 0 1 782.89 511.32)">18</text>
<text class="wd" transform="matrix(0.89 0.0005 0 1 790.39 511.32)">Di</text>
<text class="wd" transform="matrix(0.89 0.0005 0 1 809.99 511.32)">Ma</text>
<text class="dn e" transform="matrix(1 0.0005 0 1 782.89 529.92)">19</text>
<text class="wd" transform="matrix(0.89 0.0005 0 1 790.39 529.92)">Mi</text>
<text class="wd" transform="matrix(0.89 0.0005 0 1 809.99 529.92)">Me</text>
<text class="dn e" transform="matrix(1 0.0005 0 1 782.89 548.52)">20</text>
<text class="wd" transform="matrix(0.89 0.0005 0 1 790.39 548.52)">Do</text>
<text class="wd" transform="matrix(0.89 0.0005 0 1 809.99 548.52)">Je</text>
<text class="ho" transform="matrix(1 0.0005 0 1 834.49 548.52)">Frühlingsanfang</text>
<text class="dn e" transform="matrix(1 0.0005 0 1 782.89 567.11)">21</text>
<text class="wd" transform="matrix(0.89 0.0005 0 1 790.39 567.11)">Fr</text>
<text class="wd" transform="matrix(0.89 0.0005 0 1 809.99 567.11)">Ve</text>
<text class="dn e" transform="matrix(1 0.0005 0 1 782.89 585.71)">22</text>
<text class="wd" transform="matrix(0.89 0.0005 0 1 790.39 585.71)">Sa</text>
<text class="wd" transform="matrix(0.89 0.0005 0 1 809.99 585.71)">Sa</text>
<text class="dn e" transform="matrix(1 0.0005 0 1 782.89 604.31)">23</text>
<text class="wd" transform="matrix(0.89 0.0005 0 1 790.39 604.31)">So</text>
<text class="wd" transform="matrix(0.89 0.0005 0 1 809.99 604.31)">Di</text>
<text class="dn e" transform="matrix(1 0.0005 0 1 782.89 622.91)">24</text>
<text class="wd" transform="matrix(0.89 0.0005 0 1 790.39 622.91)">Mo</text>
<text class="wd" transform="matrix(0.89 0.0005 0 1 809.99 622.91)">Lu</text>
<text class="wk e" transform="matrix(0.93 0.0005 0 1 1100.58 623.11)">13</text>
<text class="dn e" transform="matrix(1 0.0005 0 1 782.89 641.51)">25</text>
<text class="wd" transform="matrix(0.89 0.0005 0 1 790.39 641.51)">Di</text>
<text class="wd" transform="matrix(0.89 0.0005 0 1 809.99 641.51)">Ma</text>
<text class="dn e" transform="matrix(1 0.0005 0 1 782.89 660.1)">26</text>
<text class="wd" transform="matrix(0.89 0.0005 0 1 790.39 660.1)">Mi</text>
<text class="wd" transform="matrix(0.89 0.0005 0 1 809.99 660.1)">Me</text>
<text class="dn e" transform="matrix(1 0.0005 0 1 782.89 678.7)">27</text>
<text class="wd" transform="matrix(0.89 0.0005 0 1 790.39 678.7)">Do</text>
<text class="wd" transform="matrix(0.89 0.0005 0 1 809.99 678.7)">Je</text>
<text class="dn e" transform="matrix(1 0.0005 0 1 782.89 697.3)">28</text>
<text class="wd" transform="matrix(0.89 0.0005 0 1 790.39 697.3)">Fr</text>
<text class="wd" transform="matrix(0.89 0.0005 0 1 809.99 697.3)">Ve</text>
<text class="dn e" transform="matrix(1 0.0005 0 1 782.89 715.9)">29</text>
<text class="wd" transform="matrix(0.89 0.0005 0 1 790.39 715.9)">Sa</text>
<text class="wd" transform="matrix(0.89 0.0005 0 1 809.99 715.9)">Sa</text>
<text class="dn e" transform="matrix(1 0.0005 0 1 782.89 734.5)">30</text>
<text class="wd" transform="matrix(0.89 0.0005 0 1 790.39 734.5)">So</text>
<text class="wd" transform="matrix(0.89 0.0005 0 1 809.99 734.5)">Di</text>
<text class="ho" transform="matrix(1 0.0005 0 1 836.79 734.5)">Beginn der Sommerzeit</text>
<text class="dn e" transform="matrix(1 0.0005 0 1 782.89 753.09)">31</text>
<text class="wd" transform="matrix(0.89 0.0005 0 1 790.39 753.09)">Mo</text>
<text class="wd" transform="matrix(0.89 0.0005 0 1 809.99 753.09)">Lu</text>
<text class="wk e" transform="matrix(0.93 0.0005 0 1 1100.58 753.29)">14</text>
<text class="mn" transform="matrix(1 0.0005 0 1 1152.12 139.96)">April</text>
<text class="mn" transform="matrix(1 0.0005 0 1 1194.89 139.96)">Avril</text>
<text class="sm e" style="font-size:8.65px" transform="matrix(1 0.0005 0 1 1482.68 139.96)">20 Arbeitstage</text>
<text class="sm e" transform="matrix(1 0.0005 0 1 1482.68 158.56)">Woche/Semaine</text>
<text class="dn e" transform="matrix(1 0.0005 0 1 1162.32 195.15)">1</text>
<text class="wd" transform="matrix(0.89 0.0005 0 1 1169.82 195.15)">Di</text>
<text class="wd" transform="matrix(0.89 0.0005 0 1 1189.42 195.15)">Ma</text>
<text class="dn e" transform="matrix(1 0.0005 0 1 1162.32 213.75)">2</text>
<text class="wd" transform="matrix(0.89 0.0005 0 1 1169.82 213.75)">Mi</text>
<text class="wd" transform="matrix(0.89 0.0005 0 1 1189.42 213.75)">Me</text>
<text class="dn e" transform="matrix(1 0.0005 0 1 1162.32 232.35)">3</text>
<text class="wd" transform="matrix(0.89 0.0005 0 1 1169.82 232.35)">Do</text>
<text class="wd" transform="matrix(0.89 0.0005 0 1 1189.42 232.35)">Je</text>
<text class="dn e" transform="matrix(1 0.0005 0 1 1162.32 250.95)">4</text>
<text class="wd" transform="matrix(0.89 0.0005 0 1 1169.82 250.95)">Fr</text>
<text class="wd" transform="matrix(0.89 0.0005 0 1 1189.42 250.95)">Ve</text>
<text class="dn e" transform="matrix(1 0.0005 0 1 1162.32 269.55)">5</text>
<text class="wd" transform="matrix(0.89 0.0005 0 1 1169.82 269.55)">Sa</text>
<text class="wd" transform="matrix(0.89 0.0005 0 1 1189.42 269.55)">Sa</text>
<text class="dn e" transform="matrix(1 0.0005 0 1 1162.32 288.14)">6</text>
<text class="wd" transform="matrix(0.89 0.0005 0 1 1169.82 288.14)">So</text>
<text class="wd" transform="matrix(0.89 0.0005 0 1 1189.42 288.14)">Di</text>
<text class="dn e" transform="matrix(1 0.0005 0 1 1162.32 306.74)">7</text>
<text class="wd" transform="matrix(0.89 0.0005 0 1 1169.82 306.74)">Mo</text>
<text class="wd" transform="matrix(0.89 0.0005 0 1 1189.42 306.74)">Lu</text>
<text class="wk e" transform="matrix(0.93 0.0005 0 1 1480.08 306.94)">15</text>
<text class="dn e" transform="matrix(1 0.0005 0 1 1162.32 325.34)">8</text>
<text class="wd" transform="matrix(0.89 0.0005 0 1 1169.82 325.34)">Di</text>
<text class="wd" transform="matrix(0.89 0.0005 0 1 1189.42 325.34)">Ma</text>
<text class="dn e" transform="matrix(1 0.0005 0 1 1162.32 343.94)">9</text>
<text class="wd" transform="matrix(0.89 0.0005 0 1 1169.82 343.94)">Mi</text>
<text class="wd" transform="matrix(0.89 0.0005 0 1 1189.42 343.94)">Me</text>
<text class="dn e" transform="matrix(1 0.0005 0 1 1162.32 362.54)">10</text>
<text class="wd" transform="matrix(0.89 0.0005 0 1 1169.82 362.54)">Do</text>
<text class="wd" transform="matrix(0.89 0.0005 0 1 1189.42 362.54)">Je</text>
<text class="dn e" transform="matrix(1 0.0005 0 1 1162.32 381.13)">11</text>
<text class="wd" transform="matrix(0.89 0.0005 0 1 1169.82 381.13)">Fr</text>
<text class="wd" transform="matrix(0.89 0.0005 0 1 1189.42 381.13)">Ve</text>
<text class="dn e" transform="matrix(1 0.0005 0 1 1162.32 399.73)">12</text>
<text class="wd" transform="matrix(0.89 0.0005 0 1 1169.82 399.73)">Sa</text>
<text class="wd" transform="matrix(0.89 0.0005 0 1 1189.42 399.73)">Sa</text>
<text class="dn e" transform="matrix(1 0.0005 0 1 1162.32 418.33)">13</text>
<text class="wd" transform="matrix(0.89 0.0005 0 1 1169.82 418.33)">So</text>
<text class="wd" transform="matrix(0.89 0.0005 0 1 1189.42 418.33)">Di</text>
<text class="dn e" transform="matrix(1 0.0005 0 1 1162.32 436.93)">14</text>
<text class="wd" transform="matrix(0.89 0.0005 0 1 1169.82 436.93)">Mo</text>
<text class="wd" transform="matrix(0.89 0.0005 0 1 1189.42 436.93)">Lu</text>
<text class="wk e" transform="matrix(0.93 0.0005 0 1 1480.08 437.13)">16</text>
<text class="dn e" transform="matrix(1 0.0005 0 1 1162.32 455.53)">15</text>
<text class="wd" transform="matrix(0.89 0.0005 0 1 1169.82 455.53)">Di</text>
<text class="wd" transform="matrix(0.89 0.0005 0 1 1189.42 455.53)">Ma</text>
<text class="dn e" transform="matrix(1 0.0005 0 1 1162.32 474.12)">16</text>
<text class="wd" transform="matrix(0.89 0.0005 0 1 1169.82 474.12)">Mi</text>
<text class="wd" transform="matrix(0.89 0.0005 0 1 1189.42 474.12)">Me</text>
<text class="dn e" transform="matrix(1 0.0005 0 1 1162.32 492.72)">17</text>
<text class="wd" transform="matrix(0.89 0.0005 0 1 1169.82 492.72)">Do</text>
<text class="wd" transform="matrix(0.89 0.0005 0 1 1189.42 492.72)">Je</text>
<text class="dn e" transform="matrix(1 0.0005 0 1 1162.32 511.32)">18</text>
<text class="wd" transform="matrix(0.89 0.0005 0 1 1169.82 511.32)">Fr</text>
<text class="wd" transform="matrix(0.89 0.0005 0 1 1189.42 511.32)">Ve</text>
<text class="ho" transform="matrix(1 0.0005 0 1 1213.92 511.32)">Karfreitag</text>
<text class="dn e" transform="matrix(1 0.0005 0 1 1162.32 529.92)">19</text>
<text class="wd" transform="matrix(0.89 0.0005 0 1 1169.82 529.92)">Sa</text>
<text class="wd" transform="matrix(0.89 0.0005 0 1 1189.42 529.92)">Sa</text>
<text class="dn e" transform="matrix(1 0.0005 0 1 1162.32 548.52)">20</text>
<text class="wd" transform="matrix(0.89 0.0005 0 1 1169.82 548.52)">So</text>
<text class="wd" transform="matrix(0.89 0.0005 0 1 1189.42 548.52)">Di</text>
<text class="ho" transform="matrix(1 0.0005 0 1 1213.92 548.52)">Ostersonntag · Pâques</text>
<text class="dn e" transform="matrix(1 0.0005 0 1 1162.32 567.11)">21</text>
<text class="wd" transform="matrix(0.89 0.0005 0 1 1169.82 567.11)">Mo</text>
<text class="wd" transform="matrix(0.89 0.0005 0 1 1189.42 567.11)">Lu</text>
<text class="wk e" transform="matrix(0.93 0.0005 0 1 1480.08 567.31)">17</text>
<text class="ho" transform="matrix(1 0.0005 0 1 1213.92 567.11)">Ostermontag · Lundi de Pâques</text>
<text class="dn e" transform="matrix(1 0.0005 0 1 1162.32 585.71)">22</text>
<text class="wd" transform="matrix(0.89 0.0005 0 1 1169.82 585.71)">Di</text>
<text class="wd" transform="matrix(0.89 0.0005 0 1 1189.42 585.71)">Ma</text>
<text class="dn e" transform="matrix(1 0.0005 0 1 1162.32 604.31)">23</text>
<text class="wd" transform="matrix(0.89 0.0005 0 1 1169.82 604.31)">Mi</text>
<text class="wd" transform="matrix(0.89 0.0005 0 1 1189.42 604.31)">Me</text>
<text class="dn e" transform="matrix(1 0.0005 0 1 1162.32 622.91)">24</text>
<text class="wd" transform="matrix(0.89 0.0005 0 1 1169.82 622.91)">Do</text>
<text class="wd" transform="matrix(0.89 0.0005 0 1 1189.42 622.91)">Je</text>
<text class="dn e" transform="matrix(1 0.0005 0 1 1162.32 641.51)">25</text>
<text class="wd" transform="matrix(0.89 0.0005 0 1 1169.82 641.51)">Fr</text>
<text class="wd" transform="matrix(0.89 0.0005 0 1 1189.42 641.51)">Ve</text>
<text class="dn e" transform="matrix(1 0.0005 0 1 1162.32 660.1)">26</text>
<text class="wd" transform="matrix(0.89 0.0005 0 1 1169.82 660.1)">Sa</text>
<text class="wd" transform="matrix(0.89 0.0005 0 1 1189.42 660.1)">Sa</text>
<text class="dn e" transform="matrix(1 0.0005 0 1 1162.32 678.7)">27</text>
<text class="wd" transform="matrix(0.89 0.0005 0 1 1169.82 678.7)">So</text>
<text class="wd" transform="matrix(0.89 0.0005 0 1 1189.42 678.7)">Di</text>
<text class="dn e" transform="matrix(1 0.0005 0 1 1162.32 697.3)">28</text>
<text class="wd" transform="matrix(0.89 0.0005 0 1 1169.82 697.3)">Mo</text>
<text class="wd" transform="matrix(0.89 0.0005 0 1 1189.42 697.3)">Lu</text>
<text class="wk e" transform="matrix(0.93 0.0005 0 1 1480.08 697.5)">18</text>
<text class="dn e" transform="matrix(1 0.0005 0 1 1162.32 715.9)">29</text>
<text class="wd" transform="matrix(0.89 0.0005 0 1 1169.82 715.9)">Di</text>
<text class="wd" transform="matrix(0.89 0.0005 0 1 1189.42 715.9)">Ma</text>
<text class="dn e" transform="matrix(1 0.0005 0 1 1162.32 734.5)">30</text>
<text class="wd" transform="matrix(0.89 0.0005 0 1 1169.82 734.5)">Mi</text>
<text class="wd" transform="matrix(0.89 0.0005 0 1 1189.42 734.5)">Me</text>
<text class="mn" transform="matrix(1 0.0005 0 1 1531.55 139.96)">Mai</text>
<text class="mn" transform="matrix(1 0.0005 0 1 1565.16 139.96)">Mai</text>
<text class="sm e" style="font-size:8.65px" transform="matrix(1 0.0005 0 1 1862.18 139.96)">20 Arbeitstage</text>
<text class="sm e" transform="matrix(1 0.0005 0 1 1862.18 158.56)">Woche/Semaine</text>
<text class="dn e" transform="matrix(1 0.0005 0 1 1541.75 195.15)">1</text>
<text class="wd" transform="matrix(0.89 0.0005 0 1 1549.25 195.15)">Do</text>
<text class="wd" transform="matrix(0.89 0.0005 0 1 1568.85 195.15)">Je</text>
<text class="ho" transform="matrix(1 0.0005 0 1 1593.35 195.15)">Maifeiertag · Fête du Travail</text>
<text class="dn e" transform="matrix(1 0.0005 0 1 1541.75 213.75)">2</text>
<text class="wd" transform="matrix(0.89 0.0005 0 1 1549.25 213.75)">Fr</text>
<text class="wd" transform="matrix(0.89 0.0005 0 1 1568.85 213.75)">Ve</text>
<text class="dn e" transform="matrix(1 0.0005 0 1 1541.75 232.35)">3</text>
<text class="wd" transform="matrix(0.89 0.0005 0 1 1549.25 232.35)">Sa</text>
<text class="wd" transform="matrix(0.89 0.0005 0 1 1568.85 232.35)">Sa</text>
<text class="dn e" transform="matrix(1 0.0005 0 1 1541.75 250.95)">4</text>
<text class="wd" transform="matrix(0.89 0.0005 0 1 1549.25 250.95)">So</text>
<text class="wd" transform="matrix(0.89 0.0005 0 1 1568.85 250.95)">Di</text>
<text class="dn e" transform="matrix(1 0.0005 0 1 1541.75 269.55)">5</text>
<text class="wd" transform="matrix(0.89 0.0005 0 1 1549.25 269.55)">Mo</text>
<text class="wd" transform="matrix(0.89 0.0005 0 1 1568.85 269.55)">Lu</text>
<text class="wk e" transform="matrix(0.93 0.0005 0 1 1859.58 269.75)">19</text>
<text class="dn e" transform="matrix(1 0.0005 0 1 1541.75 288.14)">6</text>
<text class="wd" transform="matrix(0.89 0.0005 0 1 1549.25 288.14)">Di</text>
<text class="wd" transform="matrix(0.89 0.0005 0 1 1568.85 288.14)">Ma</text>
<text class="dn e" transform="matrix(1 0.0005 0 1 1541.75 306.74)">7</text>
<text class="wd" transform="matrix(0.89 0.0005 0 1 1549.25 306.74)">Mi</text>
<text class="wd" transform="matrix(0.89 0.0005 0 1 1568.85 306.74)">Me</text>
<text class="dn e" transform="matrix(1 0.0005 0 1 1541.75 325.34)">8</text>
<text class="wd" transform="matrix(0.89 0.0005 0 1 1549.25 325.34)">Do</text>
<text class="wd" transform="matrix(0.89 0.0005 0 1 1568.85 325.34)">Je</text>
<text class="ho" transform="matrix(1 0.0005 0 1 1593.35 325.34)">Victoire 1945</text>
<text class="dn e" transform="matrix(1 0.0005 0 1 1541.75 343.94)">9</text>
<text class="wd" transform="matrix(0.89 0.0005 0 1 1549.25 343.94)">Fr</text>
<text class="wd" transform="matrix(0.89 0.0005 0 1 1568.85 343.94)">Ve</text>
<text class="ho" transform="matrix(1 0.0005 0 1 1593.35 343.94)">Europatag</text>
<text class="dn e" transform="matrix(1 0.0005 0 1 1541.75 362.54)">10</text>
<text class="wd" transform="matrix(0.89 0.0005 0 1 1549.25 362.54)">Sa</text>
<text class="wd" transform="matrix(0.89 0.0005 0 1 1568.85 362.54)">Sa</text>
<text class="dn e" transform="matrix(1 0.0005 0 1 1541.75 381.13)">11</text>
<text class="wd" transform="matrix(0.89 0.0005 0 1 1549.25 381.13)">So</text>
<text class="wd" transform="matrix(0.89 0.0005 0 1 1568.85 381.13)">Di</text>
<text class="ho" transform="matrix(1 0.0005 0 1 1595.65 381.13)">Muttertag</text>
<text class="dn e" transform="matrix(1 0.0005 0 1 1541.75 399.73)">12</text>
<text class="wd" transform="matrix(0.89 0.0005 0 1 1549.25 399.73)">Mo</text>
<text class="wd" transform="matrix(0.89 0.0005 0 1 1568.85 399.73)">Lu</text>
<text class="wk e" transform="matrix(0.93 0.0005 0 1 1859.58 399.93)">20</text>
<text class="dn e" transform="matrix(1 0.0005 0 1 1541.75 418.33)">13</text>
<text class="wd" transform="matrix(0.89 0.0005 0 1 1549.25 418.33)">Di</text>
<text class="wd" transform="matrix(0.89 0.0005 0 1 1568.85 418.33)">Ma</text>
<text class="dn e" transform="matrix(1 0.0005 0 1 1541.75 436.93)">14</text>
<text class="wd" transform="matrix(0.89 0.0005 0 1 1549.25 436.93)">Mi</text>
<text class="wd" transform="matrix(0.89 0.0005 0 1 1568.85 436.93)">Me</text>
<text class="dn e" transform="matrix(1 0.0005 0 1 1541.75 455.53)">15</text>
<text class="wd" transform="matrix(0.89 0.0005 0 1 1549.25 455.53)">Do</text>
<text class="wd" transform="matrix(0.89 0.0005 0 1 1568.85 455.53)">Je</text>
<text class="dn e" transform="matrix(1 0.0005 0 1 1541.75 474.12)">16</text>
<text class="wd" transform="matrix(0.89 0.0005 0 1 1549.25 474.12)">Fr</text>
<text class="wd" transform="matrix(0.89 0.0005 0 1 1568.85 474.12)">Ve</text>
<text class="dn e" transform="matrix(1 0.0005 0 1 1541.75 492.72)">17</text>
<text class="wd" transform="matrix(0.89 0.0005 0 1 1549.25 492.72)">Sa</text>
<text class="wd" transform="matrix(0.89 0.0005 0 1 1568.85 492.72)">Sa</text>
<text class="dn e" transform="matrix(1 0.0005 0 1 1541.75 511.32)">18</text>
<text class="wd" transform="matrix(0.89 0.0005 0 1 1549.25 511.32)">So</text>
<text class="wd" transform="matrix(0.89 0.0005 0 1 1568.85 511.32)">Di</text>
<text class="dn e" transform="matrix(1 0.0005 0 1 1541.75 529.92)">19</text>
<text class="wd" transform="matrix(0.89 0.0005 0 1 1549.25 529.92)">Mo</text>
<text class="wd" transform="matrix(0.89 0.0005 0 1 1568.85 529.92)">Lu</text>
<text class="wk e" transform="matrix(0.93 0.0005 0 1 1859.58 530.12)">21</text>
<text class="dn e" transform="matrix(1 0.0005 0 1 1541.75 548.52)">20</text>
<text class="wd" transform="matrix(0.89 0.0005 0 1 1549.25 548.52)">Di</text>
<text class="wd" transform="matrix(0.89 0.0005 0 1 1568.85 548.52)">Ma</text>
<text class="dn e" transform="matrix(1 0.0005 0 1 1541.75 567.11)">21</text>
<text class="wd" transform="matrix(0.89 0.0005 0 1 1549.25 567.11)">Mi</text>
<text class="wd" transform="matrix(0.89 0.0005 0 1 1568.85 567.11)">Me</text>
<text class="dn e" transform="matrix(1 0.0005 0 1 1541.75 585.71)">22</text>
<text class="wd" transform="matrix(0.89 0.0005 0 1 1549.25 585.71)">Do</text>
<text class="wd" transform="matrix(0.89 0.0005 0 1 1568.85 585.71)">Je</text>
<text class="dn e" transform="matrix(1 0.0005 0 1 1541.75 604.31)">23</text>
<text class="wd" transform="matrix(0.89 0.0005 0 1 1549.25 604.31)">Fr</text>
<text class="wd" transform="matrix(0.89 0.0005 0 1 1568.85 604.31)">Ve</text>
<text class="dn e" transform="matrix(1 0.0005 0 1 1541.75 622.91)">24</text>
<text class="wd" transform="matrix(0.89 0.0005 0 1 1549.25 622.91)">Sa</text>
<text class="wd" transform="matrix(0.89 0.0005 0 1 1568.85 622.91)">Sa</text>
<text class="dn e" transform="matrix(1 0.0005 0 1 1541.75 641.51)">25</text>
<text class="wd" transform="matrix(0.89 0.0005 0 1 1549.25 641.51)">So</text>
<text class="wd" transform="matrix(0.89 0.0005 0 1 1568.85 641.51)">Di</text>
<text class="dn e" transform="matrix(1 0.0005 0 1 1541.75 660.1)">26</text>
<text class="wd" transform="matrix(0.89 0.0005 0 1 1549.25 660.1)">Mo</text>
<text class="wd" transform="matrix(0.89 0.0005 0 1 1568.85 660.1)">Lu</text>
<text class="wk e" transform="matrix(0.93 0.0005 0 1 1859.58 660.3)">22</text>
<text class="dn e" transform="matrix(1 0.0005 0 1 1541.75 678.7)">27</text>
<text class="wd" transform="matrix(0.89 0.0005 0 1 1549.25 678.7)">Di</text>
<text class="wd" transform="matrix(0.89 0.0005 0 1 1568.85 678.7)">Ma</text>
<text class="dn e" transform="matrix(1 0.0005 0 1 1541.75 697.3)">28</text>
<text class="wd" transform="matrix(0.89 0.0005 0 1 1549.25 697.3)">Mi</text>
<text class="wd" transform="matrix(0.89 0.0005 0 1 1568.85 697.3)">Me</text>
<text class="dn e" transform="matrix(1 0.0005 0 1 1541.75 715.9)">29</text>
<text class="wd" transform="matrix(0.89 0.0005 0 1 1549.25 715.9)">Do</text>
<text class="wd" transform="matrix(0.89 0.0005 0 1 1568.85 715.9)">Je</text>
<text class="ho" transform="matrix(1 0.0005 0 1 1593.35 715.9)">Christi Himmelfahrt · Ascension</text>
<text class="dn e" transform="matrix(1 0.0005 0 1 1541.75 734.5)">30</text>
<text class="wd" transform="matrix(0.89 0.0005 0 1 1549.25 734.5)">Fr</text>
<text class="wd" transform="matrix(0.89 0.0005 0 1 1568.85 734.5)">Ve</text>
<text class="dn e" transform="matrix(1 0.0005 0 1 1541.75 753.09)">31</text>
<text class="wd" transform="matrix(0.89 0.0005 0 1 1549.25 753.09)">Sa</text>
<text class="wd" transform="matrix(0.89 0.0005 0 1 1568.85 753.09)">Sa</text>
<text class="mn" transform="matrix(1 0.0005 0 1 1910.98 139.96)">Juni</text>
<text class="mn" transform="matrix(1 0.0005 0 1 1950.42 139.96)">Juin</text>
<text class="sm e" style="font-size:8.65px" transform="matrix(1 0.0005 0 1 2241.68 139.96)">19/20 Arbeitstage</text>
<text class="sm e" transform="matrix(1 0.0005 0 1 2241.68 158.56)">Woche/Semaine</text>
<text class="dn e" transform="matrix(1 0.0005 0 1 1921.18 195.15)">1</text>
<text class="wd" transform="matrix(0.89 0.0005 0 1 1928.68 195.15)">So</text>
<text class="wd" transform="matrix(0.89 0.0005 0 1 1948.28 195.15)">Di</text>
<text class="dn e" transform="matrix(1 0.0005 0 1 1921.18 213.75)">2</text>
<text class="wd" transform="matrix(0.89 0.0005 0 1 1928.68 213.75)">Mo</text>
<text class="wd" transform="matrix(0.89 0.0005 0 1 1948.28 213.75)">Lu</text>
<text class="wk e" transform="matrix(0.93 0.0005 0 1 2239.08 213.95)">23</text>
<text class="dn e" transform="matrix(1 0.0005 0 1 1921.18 232.35)">3</text>
<text class="wd" transform="matrix(0.89 0.0005 0 1 1928.68 232.35)">Di</text>
<text class="wd" transform="matrix(0.89 0.0005 0 1 1948.28 232.35)">Ma</text>
<text class="dn e" transform="matrix(1 0.0005 0 1 1921.18 250.95)">4</text>
<text class="wd" transform="matrix(0.89 0.0005 0 1 1928.68 250.95)">Mi</text>
<text class="wd" transform="matrix(0.89 0.0005 0 1 1948.28 250.95)">Me</text>
<text class="dn e" transform="matrix(1 0.0005 0 1 1921.18 269.55)">5</text>
<text class="wd" transform="matrix(0.89 0.0005 0 1 1928.68 269.55)">Do</text>
<text class="wd" transform="matrix(0.89 0.0005 0 1 1948.28 269.55)">Je</text>
<text class="dn e" transform="matrix(1 0.0005 0 1 1921.18 288.14)">6</text>
<text class="wd" transform="matrix(0.89 0.0005 0 1 1928.68 288.14)">Fr</text>
<text class="wd" transform="matrix(0.89 0.0005 0 1 1948.28 288.14)">Ve</text>
<text class="dn e" transform="matrix(1 0.0005 0 1 1921.18 306.74)">7</text>
<text class="wd" transform="matrix(0.89 0.0005 0 1 1928.68 306.74)">Sa</text>
<text class="wd" transform="matrix(0.89 0.0005 0 1 1948.28 306.74)">Sa</text>
<text class="dn e" transform="matrix(1 0.0005 0 1 1921.18 325.34)">8</text>
<text class="wd" transform="matrix(0.89 0.0005 0 1 1928.68 325.34)">So</text>
<text class="wd" transform="matrix(0.89 0.0005 0 1 1948.28 325.34)">Di</text>
<text class="ho" transform="matrix(1 0.0005 0 1 1972.78 325.34)">Pfingstsonntag · Pentecôte</text>
<text class="dn e" transform="matrix(1 0.0005 0 1 1921.18 343.94)">9</text>
<text class="wd" transform="matrix(0.89 0.0005 0 1 1928.68 343.94)">Mo</text>
<text class="wd" transform="matrix(0.89 0.0005 0 1 1948.28 343.94)">Lu</text>
<text class="wk e" transform="matrix(0.93 0.0005 0 1 2239.08 344.14)">24</text>
<text class="ho" transform="matrix(1 0.0005 0 1 1972.78 343.94)">Pfingstmontag · Lundi de Pentecôte</text>
<text class="dn e" transform="matrix(1 0.0005 0 1 1921.18 362.54)">10</text>
<text class="wd" transform="matrix(0.89 0.0005 0 1 1928.68 362.54)">Di</text>
<text class="wd" transform="matrix(0.89 0.0005 0 1 1948.28 362.54)">Ma</text>
<text class="dn e" transform="matrix(1 0.0005 0 1 1921.18 381.13)">11</text>
<text class="wd" transform="matrix(0.89 0.0005 0 1 1928.68 381.13)">Mi</text>
<text class="wd" transform="matrix(0.89 0.0005 0 1 1948.28 381.13)">Me</text>
<text class="dn e" transform="matrix(1 0.0005 0 1 1921.18 399.73)">12</text>
<text class="wd" transform="matrix(0.89 0.0005 0 1 1928.68 399.73)">Do</text>
<text class="wd" transform="matrix(0.89 0.0005 0 1 1948.28 399.73)">Je</text>
<text class="dn e" transform="matrix(1 0.0005 0 1 1921.18 418.33)">13</text>
<text class="wd" transform="matrix(0.89 0.0005 0 1 1928.68 418.33)">Fr</text>
<text class="wd" transform="matrix(0.89 0.0005 0 1 1948.28 418.33)">Ve</text>
<text class="dn e" transform="matrix(1 0.0005 0 1 1921.18 436.93)">14</text>
<text class="wd" transform="matrix(0.89 0.0005 0 1 1928.68 436.93)">Sa</text>
<text class="wd" transform="matrix(0.89 0.0005 0 1 1948.28 436.93)">Sa</text>
<text class="dn e" transform="matrix(1 0.0005 0 1 1921.18 455.53)">15</text>
<text class="wd" transform="matrix(0.89 0.0005 0 1 1928.68 455.53)">So</text>
<text class="wd" transform="matrix(0.89 0.0005 0 1 1948.28 455.53)">Di</text>
<text class="dn e" transform="matrix(1 0.0005 0 1 1921.18 474.12)">16</text>
<text class="wd" transform="matrix(0.89 0.0005 0 1 1928.68 474.12)">Mo</text>
<text class="wd" transform="matrix(0.89 0.0005 0 1 1948.28 474.12)">Lu</text>
<text class="wk e" transform="matrix(0.93 0.0005 0 1 2239.08 474.32)">25</text>
<text class="dn e" transform="matrix(1 0.0005 0 1 1921.18 492.72)">17</text>
<text class="wd" transform="matrix(0.89 0.0005 0 1 1928.68 492.72)">Di</text>
<text class="wd" transform="matrix(0.89 0.0005 0 1 1948.28 492.72)">Ma</text>
<text class="dn e" transform="matrix(1 0.0005 0 1 1921.18 511.32)">18</text>
<text class="wd" transform="matrix(0.89 0.0005 0 1 1928.68 511.32)">Mi</text>
<text class="wd" transform="matrix(0.89 0.0005 0 1 1948.28 511.32)">Me</text>
<text class="dn e" transform="matrix(1 0.0005 0 1 1921.18 529.92)">19</text>
<text class="wd" transform="matrix(0.89 0.0005 0 1 1928.68 529.92)">Do</text>
<text class="wd" transform="matrix(0.89 0.0005 0 1 1948.28 529.92)">Je</text>
<text class="ho" transform="matrix(1 0.0005 0 1 1972.78 529.92)">Fronleichnam</text>
<text class="dn e" transform="matrix(1 0.0005 0 1 1921.18 548.52)">20</text>
<text class="wd" transform="matrix(0.89 0.0005 0 1 1928.68 548.52)">Fr</text>
<text class="wd" transform="matrix(0.89 0.0005 0 1 1948.28 548.52)">Ve</text>
<text class="dn e" transform="matrix(1 0.0005 0 1 1921.18 567.11)">21</text>
<text class="wd" transform="matrix(0.89 0.0005 0 1 1928.68 567.11)">Sa</text>
<text class="wd" transform="matrix(0.89 0.0005 0 1 1948.28 567.11)">Sa</text>
<text class="ho" transform="matrix(1 0.0005 0 1 1972.78 567.11)">Sommeranfang</text>
<text class="dn e" transform="matrix(1 0.0005 0 1 1921.18 585.71)">22</text>
<text class="wd" transform="matrix(0.89 0.0005 0 1 1928.68 585.71)">So</text>
<text class="wd" transform="matrix(0.89 0.0005 0 1 1948.28 585.71)">Di</text>
<text class="dn e" transform="matrix(1 0.0005 0 1 1921.18 604.31)">23</text>
<text class="wd" transform="matrix(0.89 0.0005 0 1 1928.68 604.31)">Mo</text>
<text class="wd" transform="matrix(0.89 0.0005 0 1 1948.28 604.31)">Lu</text>
<text class="wk e" transform="matrix(0.93 0.0005 0 1 2239.08 604.51)">26</text>
<text class="ho" transform="matrix(1 0.0005 0 1 1972.78 604.31)">Nationalfeiertag</text>
<text class="dn e" transform="matrix(1 0.0005 0 1 1921.18 622.91)">24</text>
<text class="wd" transform="matrix(0.89 0.0005 0 1 1928.68 622.91)">Di</text>
<text class="wd" transform="matrix(0.89 0.0005 0 1 1948.28 622.91)">Ma</text>
<text class="dn e" transform="matrix(1 0.0005 0 1 1921.18 641.51)">25</text>
<text class="wd" transform="matrix(0.89 0.0005 0 1 1928.68 641.51)">Mi</text>
<text class="wd" transform="matrix(0.89 0.0005 0 1 1948.28 641.51)">Me</text>
<text class="dn e" transform="matrix(1 0.0005 0 1 1921.18 660.1)">26</text>
<text class="wd" transform="matrix(0.89 0.0005 0 1 1928.68 660.1)">Do</text>
<text class="wd" transform="matrix(0.89 0.0005 0 1 1948.28 660.1)">Je</text>
<text class="dn e" transform="matrix(1 0.0005 0 1 1921.18 678.7)">27</text>
<text class="wd" transform="matrix(0.89 0.0005 0 1 1928.68 678.7)">Fr</text>
<text class="wd" transform="matrix(0.89 0.0005 0 1 1948.28 678.7)">Ve</text>
<text class="ho" transform="matrix(1 0.0005 0 1 1972.78 678.7)">Siebenschläfer</text>
<text class="dn e" transform="matrix(1 0.0005 0 1 1921.18 697.3)">28</text>
<text class="wd" transform="matrix(0.89 0.0005 0 1 1928.68 697.3)">Sa</text>
<text class="wd" transform="matrix(0.89 0.0005 0 1 1948.28 697.3)">Sa</text>
<text class="dn e" transform="matrix(1 0.0005 0 1 1921.18 715.9)">29</text>
<text class="wd" transform="matrix(0.89 0.0005 0 1 1928.68 715.9)">So</text>
<text class="wd" transform="matrix(0.89 0.0005 0 1 1948.28 715.9)">Di</text>
<text class="dn e" transform="matrix(1 0.0005 0 1 1921.18 734.5)">30</text>
<text class="wd" transform="matrix(0.89 0.0005 0 1 1928.68 734.5)">Mo</text>
<text class="wd" transform="matrix(0.89 0.0005 0 1 1948.28 734.5)">Lu</text>
<text class="wk e" transform="matrix(0.93 0.0005 0 1 2239.08 734.7)">27</text>
<text class="mn" transform="matrix(1 0.0005 0 1 13.83 928.1)">Juli</text>
<text class="mn" transform="matrix(1 0.0005 0 1 48.27 928.1)">Juillet</text>
<text class="sm e" style="font-size:8.65px" transform="matrix(1 0.0005 0 1 344.18 928.1)">23 Arbeitstage</text>
<text class="sm e" transform="matrix(1 0.0005 0 1 344.18 946.7)">Woche/Semaine</text>
<text class="dn e" transform="matrix(1 0.0005 0 1 24.03 983.29)">1</text>
<text class="wd" transform="matrix(0.89 0.0005 0 1 31.53 983.29)">Di</text>
<text class="wd" transform="matrix(0.89 0.0005 0 1 51.13 983.29)">Ma</text>
<text class="dn e" transform="matrix(1 0.0005 0 1 24.03 1001.89)">2</text>
<text class="wd" transform="matrix(0.89 0.0005 0 1 31.53 1001.89)">Mi</text>
<text class="wd" transform="matrix(0.89 0.0005 0 1 51.13 1001.89)">Me</text>
<text class="dn e" transform="matrix(1 0.0005 0 1 24.03 1020.49)">3</text>
<text class="wd" transform="matrix(0.89 0.0005 0 1 31.53 1020.49)">Do</text>
<text class="wd" transform="matrix(0.89 0.0005 0 1 51.13 1020.49)">Je</text>
<text class="dn e" transform="matrix(1 0.0005 0 1 24.03 1039.09)">4</text>
<text class="wd" transform="matrix(0.89 0.0005 0 1 31.53 1039.09)">Fr</text>
<text class="wd" transform="matrix(0.89 0.0005 0 1 51.13 1039.09)">Ve</text>
<text class="dn e" transform="matrix(1 0.0005 0 1 24.03 1057.69)">5</text>
<text class="wd" transform="matrix(0.89 0.0005 0 1 31.53 1057.69)">Sa</text>
<text class="wd" transform="matrix(0.89 0.0005 0 1 51.13 1057.69)">Sa</text>
<text class="dn e" transform="matrix(1 0.0005 0 1 24.03 1076.28)">6</text>
<text class="wd" transform="matrix(0.89 0.0005 0 1 31.53 1076.28)">So</text>
<text class="wd" transform="matrix(0.89 0.0005 0 1 51.13 1076.28)">Di</text>
<text class="dn e" transform="matrix(1 0.0005 0 1 24.03 1094.88)">7</text>
<text class="wd" transform="matrix(0.89 0.0005 0 1 31.53 1094.88)">Mo</text>
<text class="wd" transform="matrix(0.89 0.0005 0 1 51.13 1094.88)">Lu</text>
<text class="wk e" transform="matrix(0.93 0.0005 0 1 341.58 1095.08)">28</text>
<text class="dn e" transform="matrix(1 0.0005 0 1 24.03 1113.48)">8</text>
<text class="wd" transform="matrix(0.89 0.0005 0 1 31.53 1113.48)">Di</text>
<text class="wd" transform="matrix(0.89 0.0005 0 1 51.13 1113.48)">Ma</text>
<text class="dn e" transform="matrix(1 0.0005 0 1 24.03 1132.08)">9</text>
<text class="wd" transform="matrix(0.89 0.0005 0 1 31.53 1132.08)">Mi</text>
<text class="wd" transform="matrix(0.89 0.0005 0 1 51.13 1132.08)">Me</text>
<text class="dn e" transform="matrix(1 0.0005 0 1 24.03 1150.68)">10</text>
<text class="wd" transform="matrix(0.89 0.0005 0 1 31.53 1150.68)">Do</text>
<text class="wd" transform="matrix(0.89 0.0005 0 1 51.13 1150.68)">Je</text>
<text class="dn e" transform="matrix(1 0.0005 0 1 24.03 1169.27)">11</text>
<text class="wd" transform="matrix(0.89 0.0005 0 1 31.53 1169.27)">Fr</text>
<text class="wd" transform="matrix(0.89 0.0005 0 1 51.13 1169.27)">Ve</text>
<text class="dn e" transform="matrix(1 0.0005 0 1 24.03 1187.87)">12</text>
<text class="wd" transform="matrix(0.89 0.0005 0 1 31.53 1187.87)">Sa</text>
<text class="wd" transform="matrix(0.89 0.0005 0 1 51.13 1187.87)">Sa</text>
<text class="dn e" transform="matrix(1 0.0005 0 1 24.03 1206.47)">13</text>
<text class="wd" transform="matrix(0.89 0.0005 0 1 31.53 1206.47)">So</text>
<text class="wd" transform="matrix(0.89 0.0005 0 1 51.13 1206.47)">Di</text>
<text class="dn e" transform="matrix(1 0.0005 0 1 24.03 1225.07)">14</text>
<text class="wd" transform="matrix(0.89 0.0005 0 1 31.53 1225.07)">Mo</text>
<text class="wd" transform="matrix(0.89 0.0005 0 1 51.13 1225.07)">Lu</text>
<text class="wk e" transform="matrix(0.93 0.0005 0 1 341.58 1225.27)">29</text>
<text class="ho" transform="matrix(1 0.0005 0 1 75.63 1225.07)">Fête Nationale</text>
<text class="dn e" transform="matrix(1 0.0005 0 1 24.03 1243.67)">15</text>
<text class="wd" transform="matrix(0.89 0.0005 0 1 31.53 1243.67)">Di</text>
<text class="wd" transform="matrix(0.89 0.0005 0 1 51.13 1243.67)">Ma</text>
<text class="dn e" transform="matrix(1 0.0005 0 1 24.03 1262.26)">16</text>
<text class="wd" transform="matrix(0.89 0.0005 0 1 31.53 1262.26)">Mi</text>
<text class="wd" transform="matrix(0.89 0.0005 0 1 51.13 1262.26)">Me</text>
<text class="dn e" transform="matrix(1 0.0005 0 1 24.03 1280.86)">17</text>
<text class="wd" transform="matrix(0.89 0.0005 0 1 31.53 1280.86)">Do</text>
<text class="wd" transform="matrix(0.89 0.0005 0 1 51.13 1280.86)">Je</text>
<text class="dn e" transform="matrix(1 0.0005 0 1 24.03 1299.46)">18</text>
<text class="wd" transform="matrix(0.89 0.0005 0 1 31.53 1299.46)">Fr</text>
<text class="wd" transform="matrix(0.89 0.0005 0 1 51.13 1299.46)">Ve</text>
<text class="dn e" transform="matrix(1 0.0005 0 1 24.03 1318.06)">19</text>
<text class="wd" transform="matrix(0.89 0.0005 0 1 31.53 1318.06)">Sa</text>
<text class="wd" transform="matrix(0.89 0.0005 0 1 51.13 1318.06)">Sa</text>
<text class="dn e" transform="matrix(1 0.0005 0 1 24.03 1336.66)">20</text>
<text class="wd" transform="matrix(0.89 0.0005 0 1 31.53 1336.66)">So</text>
<text class="wd" transform="matrix(0.89 0.0005 0 1 51.13 1336.66)">Di</text>
<text class="dn e" transform="matrix(1 0.0005 0 1 24.03 1355.25)">21</text>
<text class="wd" transform="matrix(0.89 0.0005 0 1 31.53 1355.25)">Mo</text>
<text class="wd" transform="matrix(0.89 0.0005 0 1 51.13 1355.25)">Lu</text>
<text class="wk e" transform="matrix(0.93 0.0005 0 1 341.58 1355.45)">30</text>
<text class="dn e" transform="matrix(1 0.0005 0 1 24.03 1373.85)">22</text>
<text class="wd" transform="matrix(0.89 0.0005 0 1 31.53 1373.85)">Di</text>
<text class="wd" transform="matrix(0.89 0.0005 0 1 51.13 1373.85)">Ma</text>
<text class="dn e" transform="matrix(1 0.0005 0 1 24.03 1392.45)">23</text>
<text class="wd" transform="matrix(0.89 0.0005 0 1 31.53 1392.45)">Mi</text>
<text class="wd" transform="matrix(0.89 0.0005 0 1 51.13 1392.45)">Me</text>
<text class="dn e" transform="matrix(1 0.0005 0 1 24.03 1411.05)">24</text>
<text class="wd" transform="matrix(0.89 0.0005 0 1 31.53 1411.05)">Do</text>
<text class="wd" transform="matrix(0.89 0.0005 0 1 51.13 1411.05)">Je</text>
<text class="dn e" transform="matrix(1 0.0005 0 1 24.03 1429.65)">25</text>
<text class="wd" transform="matrix(0.89 0.0005 0 1 31.53 1429.65)">Fr</text>
<text class="wd" transform="matrix(0.89 0.0005 0 1 51.13 1429.65)">Ve</text>
<text class="dn e" transform="matrix(1 0.0005 0 1 24.03 1448.24)">26</text>
<text class="wd" transform="matrix(0.89 0.0005 0 1 31.53 1448.24)">Sa</text>
<text class="wd" transform="matrix(0.89 0.0005 0 1 51.13 1448.24)">Sa</text>
<text class="dn e" transform="matrix(1 0.0005 0 1 24.03 1466.84)">27</text>
<text class="wd" transform="matrix(0.89 0.0005 0 1 31.53 1466.84)">So</text>
<text class="wd" transform="matrix(0.89 0.0005 0 1 51.13 1466.84)">Di</text>
<text class="dn e" transform="matrix(1 0.0005 0 1 24.03 1485.44)">28</text>
<text class="wd" transform="matrix(0.89 0.0005 0 1 31.53 1485.44)">Mo</text>
<text class="wd" transform="matrix(0.89 0.0005 0 1 51.13 1485.44)">Lu</text>
<text class="wk e" transform="matrix(0.93 0.0005 0 1 341.58 1485.64)">31</text>
<text class="dn e" transform="matrix(1 0.0005 0 1 24.03 1504.04)">29</text>
<text class="wd" transform="matrix(0.89 0.0005 0 1 31.53 1504.04)">Di</text>
<text class="wd" transform="matrix(0.89 0.0005 0 1 51.13 1504.04)">Ma</text>
<text class="dn e" transform="matrix(1 0.0005 0 1 24.03 1522.64)">30</text>
<text class="wd" transform="matrix(0.89 0.0005 0 1 31.53 1522.64)">Mi</text>
<text class="wd" transform="matrix(0.89 0.0005 0 1 51.13 1522.64)">Me</text>
<text class="dn e" transform="matrix(1 0.0005 0 1 24.03 1541.23)">31</text>
<text class="wd" transform="matrix(0.89 0.0005 0 1 31.53 1541.23)">Do</text>
<text class="wd" transform="matrix(0.89 0.0005 0 1 51.13 1541.23)">Je</text>
<text class="mn" transform="matrix(1 0.0005 0 1 393.26 928.1)">August</text>
<text class="mn" transform="matrix(1 0.0005 0 1 453.52 928.1)">Août</text>
<text class="sm e" style="font-size:8.65px" transform="matrix(1 0.0005 0 1 723.68 928.1)">20/21 Arbeitstage</text>
<text class="sm e" transform="matrix(1 0.0005 0 1 723.68 946.7)">Woche/Semaine</text>
<text class="dn e" transform="matrix(1 0.0005 0 1 403.46 983.29)">1</text>
<text class="wd" transform="matrix(0.89 0.0005 0 1 410.96 983.29)">Fr</text>
<text class="wd" transform="matrix(0.89 0.0005 0 1 430.56 983.29)">Ve</text>
<text class="ho" transform="matrix(1 0.0005 0 1 455.06 983.29)">Bundesfeier · Fête Nationale</text>
<text class="dn e" transform="matrix(1 0.0005 0 1 403.46 1001.89)">2</text>
<text class="wd" transform="matrix(0.89 0.0005 0 1 410.96 1001.89)">Sa</text>
<text class="wd" transform="matrix(0.89 0.0005 0 1 430.56 1001.89)">Sa</text>
<text class="dn e" transform="matrix(1 0.0005 0 1 403.46 1020.49)">3</text>
<text class="wd" transform="matrix(0.89 0.0005 0 1 410.96 1020.49)">So</text>
<text class="wd" transform="matrix(0.89 0.0005 0 1 430.56 1020.49)">Di</text>
<text class="dn e" transform="matrix(1 0.0005 0 1 403.46 1039.09)">4</text>
<text class="wd" transform="matrix(0.89 0.0005 0 1 410.96 1039.09)">Mo</text>
<text class="wd" transform="matrix(0.89 0.0005 0 1 430.56 1039.09)">Lu</text>
<text class="wk e" transform="matrix(0.93 0.0005 0 1 721.08 1039.29)">32</text>
<text class="dn e" transform="matrix(1 0.0005 0 1 403.46 1057.69)">5</text>
<text class="wd" transform="matrix(0.89 0.0005 0 1 410.96 1057.69)">Di</text>
<text class="wd" transform="matrix(0.89 0.0005 0 1 430.56 1057.69)">Ma</text>
<text class="dn e" transform="matrix(1 0.0005 0 1 403.46 1076.28)">6</text>
<text class="wd" transform="matrix(0.89 0.0005 0 1 410.96 1076.28)">Mi</text>
<text class="wd" transform="matrix(0.89 0.0005 0 1 430.56 1076.28)">Me</text>
<text class="dn e" transform="matrix(1 0.0005 0 1 403.46 1094.88)">7</text>
<text class="wd" transform="matrix(0.89 0.0005 0 1 410.96 1094.88)">Do</text>
<text class="wd" transform="matrix(0.89 0.0005 0 1 430.56 1094.88)">Je</text>
<text class="dn e" transform="matrix(1 0.0005 0 1 403.46 1113.48)">8</text>
<text class="wd" transform="matrix(0.89 0.0005 0 1 410.96 1113.48)">Fr</text>
<text class="wd" transform="matrix(0.89 0.0005 0 1 430.56 1113.48)">Ve</text>
<text class="ho" transform="matrix(1 0.0005 0 1 455.06 1113.48)">Friedensfest (Augsburg)</text>
<text class="dn e" transform="matrix(1 0.0005 0 1 403.46 1132.08)">9</text>
<text class="wd" transform="matrix(0.89 0.0005 0 1 410.96 1132.08)">Sa</text>
<text class="wd" transform="matrix(0.89 0.0005 0 1 430.56 1132.08)">Sa</text>
<text class="dn e" transform="matrix(1 0.0005 0 1 403.46 1150.68)">10</text>
<text class="wd" transform="matrix(0.89 0.0005 0 1 410.96 1150.68)">So</text>
<text class="wd" transform="matrix(0.89 0.0005 0 1 430.56 1150.68)">Di</text>
<text class="dn e" transform="matrix(1 0.0005 0 1 403.46 1169.27)">11</text>
<text class="wd" transform="matrix(0.89 0.0005 0 1 410.96 1169.27)">Mo</text>
<text class="wd" transform="matrix(0.89 0.0005 0 1 430.56 1169.27)">Lu</text>
<text class="wk e" transform="matrix(0.93 0.0005 0 1 721.08 1169.47)">33</text>
<text class="dn e" transform="matrix(1 0.0005 0 1 403.46 1187.87)">12</text>
<text class="wd" transform="matrix(0.89 0.0005 0 1 410.96 1187.87)">Di</text>
<text class="wd" transform="matrix(0.89 0.0005 0 1 430.56 1187.87)">Ma</text>
<text class="dn e" transform="matrix(1 0.0005 0 1 403.46 1206.47)">13</text>
<text class="wd" transform="matrix(0.89 0.0005 0 1 410.96 1206.47)">Mi</text>
<text class="wd" transform="matrix(0.89 0.0005 0 1 430.56 1206.47)">Me</text>
<text class="dn e" transform="matrix(1 0.0005 0 1 403.46 1225.07)">14</text>
<text class="wd" transform="matrix(0.89 0.0005 0 1 410.96 1225.07)">Do</text>
<text class="wd" transform="matrix(0.89 0.0005 0 1 430.56 1225.07)">Je</text>
<text class="dn e" transform="matrix(1 0.0005 0 1 403.46 1243.67)">15</text>
<text class="wd" transform="matrix(0.89 0.0005 0 1 410.96 1243.67)">Fr</text>
<text class="wd" transform="matrix(0.89 0.0005 0 1 430.56 1243.67)">Ve</text>
<text class="ho" transform="matrix(1 0.0005 0 1 455.06 1243.67)">Mariä Himmelfahrt · Assomption</text>
<text class="dn e" transform="matrix(1 0.0005 0 1 403.46 1262.26)">16</text>
<text class="wd" transform="matrix(0.89 0.0005 0 1 410.96 1262.26)">Sa</text>
<text class="wd" transform="matrix(0.89 0.0005 0 1 430.56 1262.26)">Sa</text>
<text class="dn e" transform="matrix(1 0.0005 0 1 403.46 1280.86)">17</text>
<text class="wd" transform="matrix(0.89 0.0005 0 1 410.96 1280.86)">So</text>
<text class="wd" transform="matrix(0.89 0.0005 0 1 430.56 1280.86)">Di</text>
<text class="dn e" transform="matrix(1 0.0005 0 1 403.46 1299.46)">18</text>
<text class="wd" transform="matrix(0.89 0.0005 0 1 410.96 1299.46)">Mo</text>
<text class="wd" transform="matrix(0.89 0.0005 0 1 430.56 1299.46)">Lu</text>
<text class="wk e" transform="matrix(0.93 0.0005 0 1 721.08 1299.66)">34</text>
<text class="dn e" transform="matrix(1 0.0005 0 1 403.46 1318.06)">19</text>
<text class="wd" transform="matrix(0.89 0.0005 0 1 410.96 1318.06)">Di</text>
<text class="wd" transform="matrix(0.89 0.0005 0 1 430.56 1318.06)">Ma</text>
<text class="dn e" transform="matrix(1 0.0005 0 1 403.46 1336.66)">20</text>
<text class="wd" transform="matrix(0.89 0.0005 0 1 410.96 1336.66)">Mi</text>
<text class="wd" transform="matrix(0.89 0.0005 0 1 430.56 1336.66)">Me</text>
<text class="dn e" transform="matrix(1 0.0005 0 1 403.46 1355.25)">21</text>
<text class="wd" transform="matrix(0.89 0.0005 0 1 410.96 1355.25)">Do</text>
<text class="wd" transform="matrix(0.89 0.0005 0 1 430.56 1355.25)">Je</text>
<text class="dn e" transform="matrix(1 0.0005 0 1 403.46 1373.85)">22</text>
<text class="wd" transform="matrix(0.89 0.0005 0 1 410.96 1373.85)">Fr</text>
<text class="wd" transform="matrix(0.89 0.0005 0 1 430.56 1373.85)">Ve</text>
<text class="dn e" transform="matrix(1 0.0005 0 1 403.46 1392.45)">23</text>
<text class="wd" transform="matrix(0.89 0.0005 0 1 410.96 1392.45)">Sa</text>
<text class="wd" transform="matrix(0.89 0.0005 0 1 430.56 1392.45)">Sa</text>
<text class="dn e" transform="matrix(1 0.0005 0 1 403.46 1411.05)">24</text>
<text class="wd" transform="matrix(0.89 0.0005 0 1 410.96 1411.05)">So</text>
<text class="wd" transform="matrix(0.89 0.0005 0 1 430.56 1411.05)">Di</text>
<text class="dn e" transform="matrix(1 0.0005 0 1 403.46 1429.65)">25</text>
<text class="wd" transform="matrix(0.89 0.0005 0 1 410.96 1429.65)">Mo</text>
<text class="wd" transform="matrix(0.89 0.0005 0 1 430.56 1429.65)">Lu</text>
<text class="wk e" transform="matrix(0.93 0.0005 0 1 721.08 1429.85)">35</text>
<text class="dn e" transform="matrix(1 0.0005 0 1 403.46 1448.24)">26</text>
<text class="wd" transform="matrix(0.89 0.0005 0 1 410.96 1448.24)">Di</text>
<text class="wd" transform="matrix(0.89 0.0005 0 1 430.56 1448.24)">Ma</text>
<text class="dn e" transform="matrix(1 0.0005 0 1 403.46 1466.84)">27</text>
<text class="wd" transform="matrix(0.89 0.0005 0 1 410.96 1466.84)">Mi</text>
<text class="wd" transform="matrix(0.89 0.0005 0 1 430.56 1466.84)">Me</text>
<text class="dn e" transform="matrix(1 0.0005 0 1 403.46 1485.44)">28</text>
<text class="wd" transform="matrix(0.89 0.0005 0 1 410.96 1485.44)">Do</text>
<text class="wd" transform="matrix(0.89 0.0005 0 1 430.56 1485.44)">Je</text>
<text class="dn e" transform="matrix(1 0.0005 0 1 403.46 1504.04)">29</text>
<text class="wd" transform="matrix(0.89 0.0005 0 1 410.96 1504.04)">Fr</text>
<text class="wd" transform="matrix(0.89 0.0005 0 1 430.56 1504.04)">Ve</text>
<text class="dn e" transform="matrix(1 0.0005 0 1 403.46 1522.64)">30</text>
<text class="wd" transform="matrix(0.89 0.0005 0 1 410.96 1522.64)">Sa</text>
<text class="wd" transform="matrix(0.89 0.0005 0 1 430.56 1522.64)">Sa</text>
<text class="dn e" transform="matrix(1 0.0005 0 1 403.46 1541.23)">31</text>
<text class="wd" transform="matrix(0.89 0.0005 0 1 410.96 1541.23)">So</text>
<text class="wd" transform="matrix(0.89 0.0005 0 1 430.56 1541.23)">Di</text>
<text class="mn" transform="matrix(1 0.0005 0 1 772.69 928.1)">September</text>
<text class="mn" transform="matrix(1 0.0005 0 1 858.82 928.1)">Septembre</text>
<text class="sm e" style="font-size:8.65px" transform="matrix(1 0.0005 0 1 1103.18 928.1)">22 Arbeitstage</text>
<text class="sm e" transform="matrix(1 0.0005 0 1 1103.18 946.7)">Woche/Semaine</text>
<text class="dn e" transform="matrix(1 0.0005 0 1 782.89 983.29)">1</text>
<text class="wd" transform="matrix(0.89 0.0005 0 1 790.39 983.29)">Mo</text>
<text class="wd" transform="matrix(0.89 0.0005 0 1 809.99 983.29)">Lu</text>
<text class="wk e" transform="matrix(0.93 0.0005 0 1 1100.58 983.49)">36</text>
<text class="dn e" transform="matrix(1 0.0005 0 1 782.89 1001.89)">2</text>
<text class="wd" transform="matrix(0.89 0.0005 0 1 790.39 1001.89)">Di</text>
<text class="wd" transform="matrix(0.89 0.0005 0 1 809.99 1001.89)">Ma</text>
<text class="dn e" transform="matrix(1 0.0005 0 1 782.89 1020.49)">3</text>
<text class="wd" transform="matrix(0.89 0.0005 0 1 790.39 1020.49)">Mi</text>
<text class="wd" transform="matrix(0.89 0.0005 0 1 809.99 1020.49)">Me</text>
<text class="dn e" transform="matrix(1 0.0005 0 1 782.89 1039.09)">4</text>
<text class="wd" transform="matrix(0.89 0.0005 0 1 790.39 1039.09)">Do</text>
<text class="wd" transform="matrix(0.89 0.0005 0 1 809.99 1039.09)">Je</text>
<text class="dn e" transform="matrix(1 0.0005 0 1 782.89 1057.69)">5</text>
<text class="wd" transform="matrix(0.89 0.0005 0 1 790.39 1057.69)">Fr</text>
<text class="wd" transform="matrix(0.89 0.0005 0 1 809.99 1057.69)">Ve</text>
<text class="dn e" transform="matrix(1 0.0005 0 1 782.89 1076.28)">6</text>
<text class="wd" transform="matrix(0.89 0.0005 0 1 790.39 1076.28)">Sa</text>
<text class="wd" transform="matrix(0.89 0.0005 0 1 809.99 1076.28)">Sa</text>
<text class="dn e" transform="matrix(1 0.0005 0 1 782.89 1094.88)">7</text>
<text class="wd" transform="matrix(0.89 0.0005 0 1 790.39 1094.88)">So</text>
<text class="wd" transform="matrix(0.89 0.0005 0 1 809.99 1094.88)">Di</text>
<text class="dn e" transform="matrix(1 0.0005 0 1 782.89 1113.48)">8</text>
<text class="wd" transform="matrix(0.89 0.0005 0 1 790.39 1113.48)">Mo</text>
<text class="wd" transform="matrix(0.89 0.0005 0 1 809.99 1113.48)">Lu</text>
<text class="wk e" transform="matrix(0.93 0.0005 0 1 1100.58 1113.68)">37</text>
<text class="dn e" transform="matrix(1 0.0005 0 1 782.89 1132.08)">9</text>
<text class="wd" transform="matrix(0.89 0.0005 0 1 790.39 1132.08)">Di</text>
<text class="wd" transform="matrix(0.89 0.0005 0 1 809.99 1132.08)">Ma</text>
<text class="dn e" transform="matrix(1 0.0005 0 1 782.89 1150.68)">10</text>
<text class="wd" transform="matrix(0.89 0.0005 0 1 790.39 1150.68)">Mi</text>
<text class="wd" transform="matrix(0.89 0.0005 0 1 809.99 1150.68)">Me</text>
<text class="dn e" transform="matrix(1 0.0005 0 1 782.89 1169.27)">11</text>
<text class="wd" transform="matrix(0.89 0.0005 0 1 790.39 1169.27)">Do</text>
<text class="wd" transform="matrix(0.89 0.0005 0 1 809.99 1169.27)">Je</text>
<text class="dn e" transform="matrix(1 0.0005 0 1 782.89 1187.87)">12</text>
<text class="wd" transform="matrix(0.89 0.0005 0 1 790.39 1187.87)">Fr</text>
<text class="wd" transform="matrix(0.89 0.0005 0 1 809.99 1187.87)">Ve</text>
<text class="dn e" transform="matrix(1 0.0005 0 1 782.89 1206.47)">13</text>
<text class="wd" transform="matrix(0.89 0.0005 0 1 790.39 1206.47)">Sa</text>
<text class="wd" transform="matrix(0.89 0.0005 0 1 809.99 1206.47)">Sa</text>
<text class="dn e" transform="matrix(1 0.0005 0 1 782.89 1225.07)">14</text>
<text class="wd" transform="matrix(0.89 0.0005 0 1 790.39 1225.07)">So</text>
<text class="wd" transform="matrix(0.89 0.0005 0 1 809.99 1225.07)">Di</text>
<text class="dn e" transform="matrix(1 0.0005 0 1 782.89 1243.67)">15</text>
<text class="wd" transform="matrix(0.89 0.0005 0 1 790.39 1243.67)">Mo</text>
<text class="wd" transform="matrix(0.89 0.0005 0 1 809.99 1243.67)">Lu</text>
<text class="wk e" transform="matrix(0.93 0.0005 0 1 1100.58 1243.87)">38</text>
<text class="dn e" transform="matrix(1 0.0005 0 1 782.89 1262.26)">16</text>
<text class="wd" transform="matrix(0.89 0.0005 0 1 790.39 1262.26)">Di</text>
<text class="wd" transform="matrix(0.89 0.0005 0 1 809.99 1262.26)">Ma</text>
<text class="dn e" transform="matrix(1 0.0005 0 1 782.89 1280.86)">17</text>
<text class="wd" transform="matrix(0.89 0.0005 0 1 790.39 1280.86)">Mi</text>
<text class="wd" transform="matrix(0.89 0.0005 0 1 809.99 1280.86)">Me</text>
<text class="dn e" transform="matrix(1 0.0005 0 1 782.89 1299.46)">18</text>
<text class="wd" transform="matrix(0.89 0.0005 0 1 790.39 1299.46)">Do</text>
<text class="wd" transform="matrix(0.89 0.0005 0 1 809.99 1299.46)">Je</text>
<text class="dn e" transform="matrix(1 0.0005 0 1 782.89 1318.06)">19</text>
<text class="wd" transform="matrix(0.89 0.0005 0 1 790.39 1318.06)">Fr</text>
<text class="wd" transform="matrix(0.89 0.0005 0 1 809.99 1318.06)">Ve</text>
<text class="dn e" transform="matrix(1 0.0005 0 1 782.89 1336.66)">20</text>
<text class="wd" transform="matrix(0.89 0.0005 0 1 790.39 1336.66)">Sa</text>
<text class="wd" transform="matrix(0.89 0.0005 0 1 809.99 1336.66)">Sa</text>
<text class="dn e" transform="matrix(1 0.0005 0 1 782.89 1355.25)">21</text>
<text class="wd" transform="matrix(0.89 0.0005 0 1 790.39 1355.25)">So</text>
<text class="wd" transform="matrix(0.89 0.0005 0 1 809.99 1355.25)">Di</text>
<text class="dn e" transform="matrix(1 0.0005 0 1 782.89 1373.85)">22</text>
<text class="wd" transform="matrix(0.89 0.0005 0 1 790.39 1373.85)">Mo</text>
<text class="wd" transform="matrix(0.89 0.0005 0 1 809.99 1373.85)">Lu</text>
<text class="wk e" transform="matrix(0.93 0.0005 0 1 1100.58 1374.05)">39</text>
<text class="dn e" transform="matrix(1 0.0005 0 1 782.89 1392.45)">23</text>
<text class="wd" transform="matrix(0.89 0.0005 0 1 790.39 1392.45)">Di</text>
<text class="wd" transform="matrix(0.89 0.0005 0 1 809.99 1392.45)">Ma</text>
<text class="ho" transform="matrix(1 0.0005 0 1 834.49 1392.45)">Herbstanfang</text>
<text class="dn e" transform="matrix(1 0.0005 0 1 782.89 1411.05)">24</text>
<text class="wd" transform="matrix(0.89 0.0005 0 1 790.39 1411.05)">Mi</text>
<text class="wd" transform="matrix(0.89 0.0005 0 1 809.99 1411.05)">Me</text>
<text class="dn e" transform="matrix(1 0.0005 0 1 782.89 1429.65)">25</text>
<text class="wd" transform="matrix(0.89 0.0005 0 1 790.39 1429.65)">Do</text>
<text class="wd" transform="matrix(0.89 0.0005 0 1 809.99 1429.65)">Je</text>
<text class="dn e" transform="matrix(1 0.0005 0 1 782.89 1448.24)">26</text>
<text class="wd" transform="matrix(0.89 0.0005 0 1 790.39 1448.24)">Fr</text>
<text class="wd" transform="matrix(0.89 0.0005 0 1 809.99 1448.24)">Ve</text>
<text class="dn e" transform="matrix(1 0.0005 0 1 782.89 1466.84)">27</text>
<text class="wd" transform="matrix(0.89 0.0005 0 1 790.39 1466.84)">Sa</text>
<text class="wd" transform="matrix(0.89 0.0005 0 1 809.99 1466.84)">Sa</text>
<text class="dn e" transform="matrix(1 0.0005 0 1 782.89 1485.44)">28</text>
<text class="wd" transform="matrix(0.89 0.0005 0 1 790.39 1485.44)">So</text>
<text class="wd" transform="matrix(0.89 0.0005 0 1 809.99 1485.44)">Di</text>
<text class="dn e" transform="matrix(1 0.0005 0 1 782.89 1504.04)">29</text>
<text class="wd" transform="matrix(0.89 0.0005 0 1 790.39 1504.04)">Mo</text>
<text class="wd" transform="matrix(0.89 0.0005 0 1 809.99 1504.04)">Lu</text>
<text class="wk e" transform="matrix(0.93 0.0005 0 1 1100.58 1504.24)">40</text>
<text class="dn e" transform="matrix(1 0.0005 0 1 782.89 1522.64)">30</text>
<text class="wd" transform="matrix(0.89 0.0005 0 1 790.39 1522.64)">Di</text>
<text class="wd" transform="matrix(0.89 0.0005 0 1 809.99 1522.64)">Ma</text>
<text class="mn" transform="matrix(1 0.0005 0 1 1152.12 928.1)">Oktober</text>
<text class="mn" transform="matrix(1 0.0005 0 1 1218.23 928.1)">Octobre</text>
<text class="sm e" style="font-size:8.65px" transform="matrix(1 0.0005 0 1 1482.68 928.1)">21/22 Arbeitstage</text>
<text class="sm e" transform="matrix(1 0.0005 0 1 1482.68 946.7)">Woche/Semaine</text>
<text class="dn e" transform="matrix(1 0.0005 0 1 1162.32 983.29)">1</text>
<text class="wd" transform="matrix(0.89 0.0005 0 1 1169.82 983.29)">Mi</text>
<text class="wd" transform="matrix(0.89 0.0005 0 1 1189.42 983.29)">Me</text>
<text class="dn e" transform="matrix(1 0.0005 0 1 1162.32 1001.89)">2</text>
<text class="wd" transform="matrix(0.89 0.0005 0 1 1169.82 1001.89)">Do</text>
<text class="wd" transform="matrix(0.89 0.0005 0 1 1189.42 1001.89)">Je</text>
<text class="dn e" transform="matrix(1 0.0005 0 1 1162.32 1020.49)">3</text>
<text class="wd" transform="matrix(0.89 0.0005 0 1 1169.82 1020.49)">Fr</text>
<text class="wd" transform="matrix(0.89 0.0005 0 1 1189.42 1020.49)">Ve</text>
<text class="ho" transform="matrix(1 0.0005 0 1 1213.92 1020.49)">Tag der Deutschen Einheit</text>
<text class="dn e" transform="matrix(1 0.0005 0 1 1162.32 1039.09)">4</text>
<text class="wd" transform="matrix(0.89 0.0005 0 1 1169.82 1039.09)">Sa</text>
<text class="wd" transform="matrix(0.89 0.0005 0 1 1189.42 1039.09)">Sa</text>
<text class="dn e" transform="matrix(1 0.0005 0 1 1162.32 1057.69)">5</text>
<text class="wd" transform="matrix(0.89 0.0005 0 1 1169.82 1057.69)">So</text>
<text class="wd" transform="matrix(0.89 0.0005 0 1 1189.42 1057.69)">Di</text>
<text class="ho" transform="matrix(1 0.0005 0 1 1213.92 1057.69)">Erntedanktag</text>
<text class="dn e" transform="matrix(1 0.0005 0 1 1162.32 1076.28)">6</text>
<text class="wd" transform="matrix(0.89 0.0005 0 1 1169.82 1076.28)">Mo</text>
<text class="wd" transform="matrix(0.89 0.0005 0 1 1189.42 1076.28)">Lu</text>
<text class="wk e" transform="matrix(0.93 0.0005 0 1 1480.08 1076.48)">41</text>
<text class="dn e" transform="matrix(1 0.0005 0 1 1162.32 1094.88)">7</text>
<text class="wd" transform="matrix(0.89 0.0005 0 1 1169.82 1094.88)">Di</text>
<text class="wd" transform="matrix(0.89 0.0005 0 1 1189.42 1094.88)">Ma</text>
<text class="dn e" transform="matrix(1 0.0005 0 1 1162.32 1113.48)">8</text>
<text class="wd" transform="matrix(0.89 0.0005 0 1 1169.82 1113.48)">Mi</text>
<text class="wd" transform="matrix(0.89 0.0005 0 1 1189.42 1113.48)">Me</text>
<text class="dn e" transform="matrix(1 0.0005 0 1 1162.32 1132.08)">9</text>
<text class="wd" transform="matrix(0.89 0.0005 0 1 1169.82 1132.08)">Do</text>
<text class="wd" transform="matrix(0.89 0.0005 0 1 1189.42 1132.08)">Je</text>
<text class="dn e" transform="matrix(1 0.0005 0 1 1162.32 1150.68)">10</text>
<text class="wd" transform="matrix(0.89 0.0005 0 1 1169.82 1150.68)">Fr</text>
<text class="wd" transform="matrix(0.89 0.0005 0 1 1189.42 1150.68)">Ve</text>
<text class="dn e" transform="matrix(1 0.0005 0 1 1162.32 1169.27)">11</text>
<text class="wd" transform="matrix(0.89 0.0005 0 1 1169.82 1169.27)">Sa</text>
<text class="wd" transform="matrix(0.89 0.0005 0 1 1189.42 1169.27)">Sa</text>
<text class="dn e" transform="matrix(1 0.0005 0 1 1162.32 1187.87)">12</text>
<text class="wd" transform="matrix(0.89 0.0005 0 1 1169.82 1187.87)">So</text>
<text class="wd" transform="matrix(0.89 0.0005 0 1 1189.42 1187.87)">Di</text>
<text class="dn e" transform="matrix(1 0.0005 0 1 1162.32 1206.47)">13</text>
<text class="wd" transform="matrix(0.89 0.0005 0 1 1169.82 1206.47)">Mo</text>
<text class="wd" transform="matrix(0.89 0.0005 0 1 1189.42 1206.47)">Lu</text>
<text class="wk e" transform="matrix(0.93 0.0005 0 1 1480.08 1206.67)">42</text>
<text class="dn e" transform="matrix(1 0.0005 0 1 1162.32 1225.07)">14</text>
<text class="wd" transform="matrix(0.89 0.0005 0 1 1169.82 1225.07)">Di</text>
<text class="wd" transform="matrix(0.89 0.0005 0 1 1189.42 1225.07)">Ma</text>
<text class="dn e" transform="matrix(1 0.0005 0 1 1162.32 1243.67)">15</text>
<text class="wd" transform="matrix(0.89 0.0005 0 1 1169.82 1243.67)">Mi</text>
<text class="wd" transform="matrix(0.89 0.0005 0 1 1189.42 1243.67)">Me</text>
<text class="dn e" transform="matrix(1 0.0005 0 1 1162.32 1262.26)">16</text>
<text class="wd" transform="matrix(0.89 0.0005 0 1 1169.82 1262.26)">Do</text>
<text class="wd" transform="matrix(0.89 0.0005 0 1 1189.42 1262.26)">Je</text>
<text class="dn e" transform="matrix(1 0.0005 0 1 1162.32 1280.86)">17</text>
<text class="wd" transform="matrix(0.89 0.0005 0 1 1169.82 1280.86)">Fr</text>
<text class="wd" transform="matrix(0.89 0.0005 0 1 1189.42 1280.86)">Ve</text>
<text class="dn e" transform="matrix(1 0.0005 0 1 1162.32 1299.46)">18</text>
<text class="wd" transform="matrix(0.89 0.0005 0 1 1169.82 1299.46)">Sa</text>
<text class="wd" transform="matrix(0.89 0.0005 0 1 1189.42 1299.46)">Sa</text>
<text class="dn e" transform="matrix(1 0.0005 0 1 1162.32 1318.06)">19</text>
<text class="wd" transform="matrix(0.89 0.0005 0 1 1169.82 1318.06)">So</text>
<text class="wd" transform="matrix(0.89 0.0005 0 1 1189.42 1318.06)">Di</text>
<text class="dn e" transform="matrix(1 0.0005 0 1 1162.32 1336.66)">20</text>
<text class="wd" transform="matrix(0.89 0.0005 0 1 1169.82 1336.66)">Mo</text>
<text class="wd" transform="matrix(0.89 0.0005 0 1 1189.42 1336.66)">Lu</text>
<text class="wk e" transform="matrix(0.93 0.0005 0 1 1480.08 1336.86)">43</text>
<text class="dn e" transform="matrix(1 0.0005 0 1 1162.32 1355.25)">21</text>
<text class="wd" transform="matrix(0.89 0.0005 0 1 1169.82 1355.25)">Di</text>
<text class="wd" transform="matrix(0.89 0.0005 0 1 1189.42 1355.25)">Ma</text>
<text class="dn e" transform="matrix(1 0.0005 0 1 1162.32 1373.85)">22</text>
<text class="wd" transform="matrix(0.89 0.0005 0 1 1169.82 1373.85)">Mi</text>
<text class="wd" transform="matrix(0.89 0.0005 0 1 1189.42 1373.85)">Me</text>
<text class="dn e" transform="matrix(1 0.0005 0 1 1162.32 1392.45)">23</text>
<text class="wd" transform="matrix(0.89 0.0005 0 1 1169.82 1392.45)">Do</text>
<text class="wd" transform="matrix(0.89 0.0005 0 1 1189.42 1392.45)">Je</text>
<text class="dn e" transform="matrix(1 0.0005 0 1 1162.32 1411.05)">24</text>
<text class="wd" transform="matrix(0.89 0.0005 0 1 1169.82 1411.05)">Fr</text>
<text class="wd" transform="matrix(0.89 0.0005 0 1 1189.42 1411.05)">Ve</text>
<text class="dn e" transform="matrix(1 0.0005 0 1 1162.32 1429.65)">25</text>
<text class="wd" transform="matrix(0.89 0.0005 0 1 1169.82 1429.65)">Sa</text>
<text class="wd" transform="matrix(0.89 0.0005 0 1 1189.42 1429.65)">Sa</text>
<text class="dn e" transform="matrix(1 0.0005 0 1 1162.32 1448.24)">26</text>
<text class="wd" transform="matrix(0.89 0.0005 0 1 1169.82 1448.24)">So</text>
<text class="wd" transform="matrix(0.89 0.0005 0 1 1189.42 1448.24)">Di</text>
<text class="ho" transform="matrix(1 0.0005 0 1 1213.92 1448.24)">Nationalfeiertag</text>
<text class="ho" transform="matrix(1 0.0005 0 1 1284.66 1448.24)"> / Ende der Sommerzeit</text>
<text class="dn e" transform="matrix(1 0.0005 0 1 1162.32 1466.84)">27</text>
<text class="wd" transform="matrix(0.89 0.0005 0 1 1169.82 1466.84)">Mo</text>
<text class="wd" transform="matrix(0.89 0.0005 0 1 1189.42 1466.84)">Lu</text>
<text class="wk e" transform="matrix(0.93 0.0005 0 1 1480.08 1467.04)">44</text>
<text class="dn e" transform="matrix(1 0.0005 0 1 1162.32 1485.44)">28</text>
<text class="wd" transform="matrix(0.89 0.0005 0 1 1169.82 1485.44)">Di</text>
<text class="wd" transform="matrix(0.89 0.0005 0 1 1189.42 1485.44)">Ma</text>
<text class="dn e" transform="matrix(1 0.0005 0 1 1162.32 1504.04)">29</text>
<text class="wd" transform="matrix(0.89 0.0005 0 1 1169.82 1504.04)">Mi</text>
<text class="wd" transform="matrix(0.89 0.0005 0 1 1189.42 1504.04)">Me</text>
<text class="dn e" transform="matrix(1 0.0005 0 1 1162.32 1522.64)">30</text>
<text class="wd" transform="matrix(0.89 0.0005 0 1 1169.82 1522.64)">Do</text>
<text class="wd" transform="matrix(0.89 0.0005 0 1 1189.42 1522.64)">Je</text>
<text class="ho" transform="matrix(1 0.0005 0 1 1213.92 1522.64)">Weltspartag</text>
<text class="dn e" transform="matrix(1 0.0005 0 1 1162.32 1541.23)">31</text>
<text class="wd" transform="matrix(0.89 0.0005 0 1 1169.82 1541.23)">Fr</text>
<text class="wd" transform="matrix(0.89 0.0005 0 1 1189.42 1541.23)">Ve</text>
<text class="ho" transform="matrix(1 0.0005 0 1 1213.92 1541.23)">Reformationstag</text>
<text class="mn" transform="matrix(1 0.0005 0 1 1531.55 928.1)">November</text>
<text class="mn" transform="matrix(1 0.0005 0 1 1613.51 928.1)">Novembre</text>
<text class="sm e" style="font-size:8.65px" transform="matrix(1 0.0005 0 1 1862.18 928.1)">19/20 Arbeitstage</text>
<text class="sm e" transform="matrix(1 0.0005 0 1 1862.18 946.7)">Woche/Semaine</text>
<text class="dn e" transform="matrix(1 0.0005 0 1 1541.75 983.29)">1</text>
<text class="wd" transform="matrix(0.89 0.0005 0 1 1549.25 983.29)">Sa</text>
<text class="wd" transform="matrix(0.89 0.0005 0 1 1568.85 983.29)">Sa</text>
<text class="ho" transform="matrix(1 0.0005 0 1 1593.35 983.29)">Allerheiligen · Toussaint</text>
<text class="dn e" transform="matrix(1 0.0005 0 1 1541.75 1001.89)">2</text>
<text class="wd" transform="matrix(0.89 0.0005 0 1 1549.25 1001.89)">So</text>
<text class="wd" transform="matrix(0.89 0.0005 0 1 1568.85 1001.89)">Di</text>
<text class="dn e" transform="matrix(1 0.0005 0 1 1541.75 1020.49)">3</text>
<text class="wd" transform="matrix(0.89 0.0005 0 1 1549.25 1020.49)">Mo</text>
<text class="wd" transform="matrix(0.89 0.0005 0 1 1568.85 1020.49)">Lu</text>
<text class="wk e" transform="matrix(0.93 0.0005 0 1 1859.58 1020.69)">45</text>
<text class="dn e" transform="matrix(1 0.0005 0 1 1541.75 1039.09)">4</text>
<text class="wd" transform="matrix(0.89 0.0005 0 1 1549.25 1039.09)">Di</text>
<text class="wd" transform="matrix(0.89 0.0005 0 1 1568.85 1039.09)">Ma</text>
<text class="dn e" transform="matrix(1 0.0005 0 1 1541.75 1057.69)">5</text>
<text class="wd" transform="matrix(0.89 0.0005 0 1 1549.25 1057.69)">Mi</text>
<text class="wd" transform="matrix(0.89 0.0005 0 1 1568.85 1057.69)">Me</text>
<text class="dn e" transform="matrix(1 0.0005 0 1 1541.75 1076.28)">6</text>
<text class="wd" transform="matrix(0.89 0.0005 0 1 1549.25 1076.28)">Do</text>
<text class="wd" transform="matrix(0.89 0.0005 0 1 1568.85 1076.28)">Je</text>
<text class="dn e" transform="matrix(1 0.0005 0 1 1541.75 1094.88)">7</text>
<text class="wd" transform="matrix(0.89 0.0005 0 1 1549.25 1094.88)">Fr</text>
<text class="wd" transform="matrix(0.89 0.0005 0 1 1568.85 1094.88)">Ve</text>
<text class="dn e" transform="matrix(1 0.0005 0 1 1541.75 1113.48)">8</text>
<text class="wd" transform="matrix(0.89 0.0005 0 1 1549.25 1113.48)">Sa</text>
<text class="wd" transform="matrix(0.89 0.0005 0 1 1568.85 1113.48)">Sa</text>
<text class="dn e" transform="matrix(1 0.0005 0 1 1541.75 1132.08)">9</text>
<text class="wd" transform="matrix(0.89 0.0005 0 1 1549.25 1132.08)">So</text>
<text class="wd" transform="matrix(0.89 0.0005 0 1 1568.85 1132.08)">Di</text>
<text class="dn e" transform="matrix(1 0.0005 0 1 1541.75 1150.68)">10</text>
<text class="wd" transform="matrix(0.89 0.0005 0 1 1549.25 1150.68)">Mo</text>
<text class="wd" transform="matrix(0.89 0.0005 0 1 1568.85 1150.68)">Lu</text>
<text class="wk e" transform="matrix(0.93 0.0005 0 1 1859.58 1150.88)">46</text>
<text class="dn e" transform="matrix(1 0.0005 0 1 1541.75 1169.27)">11</text>
<text class="wd" transform="matrix(0.89 0.0005 0 1 1549.25 1169.27)">Di</text>
<text class="wd" transform="matrix(0.89 0.0005 0 1 1568.85 1169.27)">Ma</text>
<text class="ho" transform="matrix(1 0.0005 0 1 1593.35 1169.27)">Armistice 1918</text>
<text class="dn e" transform="matrix(1 0.0005 0 1 1541.75 1187.87)">12</text>
<text class="wd" transform="matrix(0.89 0.0005 0 1 1549.25 1187.87)">Mi</text>
<text class="wd" transform="matrix(0.89 0.0005 0 1 1568.85 1187.87)">Me</text>
<text class="dn e" transform="matrix(1 0.0005 0 1 1541.75 1206.47)">13</text>
<text class="wd" transform="matrix(0.89 0.0005 0 1 1549.25 1206.47)">Do</text>
<text class="wd" transform="matrix(0.89 0.0005 0 1 1568.85 1206.47)">Je</text>
<text class="dn e" transform="matrix(1 0.0005 0 1 1541.75 1225.07)">14</text>
<text class="wd" transform="matrix(0.89 0.0005 0 1 1549.25 1225.07)">Fr</text>
<text class="wd" transform="matrix(0.89 0.0005 0 1 1568.85 1225.07)">Ve</text>
<text class="dn e" transform="matrix(1 0.0005 0 1 1541.75 1243.67)">15</text>
<text class="wd" transform="matrix(0.89 0.0005 0 1 1549.25 1243.67)">Sa</text>
<text class="wd" transform="matrix(0.89 0.0005 0 1 1568.85 1243.67)">Sa</text>
<text class="dn e" transform="matrix(1 0.0005 0 1 1541.75 1262.26)">16</text>
<text class="wd" transform="matrix(0.89 0.0005 0 1 1549.25 1262.26)">So</text>
<text class="wd" transform="matrix(0.89 0.0005 0 1 1568.85 1262.26)">Di</text>
<text class="ho" transform="matrix(1 0.0005 0 1 1593.35 1262.26)">Volkstrauertag</text>
<text class="dn e" transform="matrix(1 0.0005 0 1 1541.75 1280.86)">17</text>
<text class="wd" transform="matrix(0.89 0.0005 0 1 1549.25 1280.86)">Mo</text>
<text class="wd" transform="matrix(0.89 0.0005 0 1 1568.85 1280.86)">Lu</text>
<text class="wk e" transform="matrix(0.93 0.0005 0 1 1859.58 1281.06)">47</text>
<text class="dn e" transform="matrix(1 0.0005 0 1 1541.75 1299.46)">18</text>
<text class="wd" transform="matrix(0.89 0.0005 0 1 1549.25 1299.46)">Di</text>
<text class="wd" transform="matrix(0.89 0.0005 0 1 1568.85 1299.46)">Ma</text>
<text class="dn e" transform="matrix(1 0.0005 0 1 1541.75 1318.06)">19</text>
<text class="wd" transform="matrix(0.89 0.0005 0 1 1549.25 1318.06)">Mi</text>
<text class="wd" transform="matrix(0.89 0.0005 0 1 1568.85 1318.06)">Me</text>
<text class="ho" transform="matrix(1 0.0005 0 1 1593.35 1318.06)">Buß- und Bettag</text>
<text class="dn e" transform="matrix(1 0.0005 0 1 1541.75 1336.66)">20</text>
<text class="wd" transform="matrix(0.89 0.0005 0 1 1549.25 1336.66)">Do</text>
<text class="wd" transform="matrix(0.89 0.0005 0 1 1568.85 1336.66)">Je</text>
<text class="dn e" transform="matrix(1 0.0005 0 1 1541.75 1355.25)">21</text>
<text class="wd" transform="matrix(0.89 0.0005 0 1 1549.25 1355.25)">Fr</text>
<text class="wd" transform="matrix(0.89 0.0005 0 1 1568.85 1355.25)">Ve</text>
<text class="dn e" transform="matrix(1 0.0005 0 1 1541.75 1373.85)">22</text>
<text class="wd" transform="matrix(0.89 0.0005 0 1 1549.25 1373.85)">Sa</text>
<text class="wd" transform="matrix(0.89 0.0005 0 1 1568.85 1373.85)">Sa</text>
<text class="dn e" transform="matrix(1 0.0005 0 1 1541.75 1392.45)">23</text>
<text class="wd" transform="matrix(0.89 0.0005 0 1 1549.25 1392.45)">So</text>
<text class="wd" transform="matrix(0.89 0.0005 0 1 1568.85 1392.45)">Di</text>
<text class="ho" transform="matrix(1 0.0005 0 1 1593.35 1392.45)">Totensonntag</text>
<text class="dn e" transform="matrix(1 0.0005 0 1 1541.75 1411.05)">24</text>
<text class="wd" transform="matrix(0.89 0.0005 0 1 1549.25 1411.05)">Mo</text>
<text class="wd" transform="matrix(0.89 0.0005 0 1 1568.85 1411.05)">Lu</text>
<text class="wk e" transform="matrix(0.93 0.0005 0 1 1859.58 1411.25)">48</text>
<text class="dn e" transform="matrix(1 0.0005 0 1 1541.75 1429.65)">25</text>
<text class="wd" transform="matrix(0.89 0.0005 0 1 1549.25 1429.65)">Di</text>
<text class="wd" transform="matrix(0.89 0.0005 0 1 1568.85 1429.65)">Ma</text>
<text class="dn e" transform="matrix(1 0.0005 0 1 1541.75 1448.24)">26</text>
<text class="wd" transform="matrix(0.89 0.0005 0 1 1549.25 1448.24)">Mi</text>
<text class="wd" transform="matrix(0.89 0.0005 0 1 1568.85 1448.24)">Me</text>
<text class="dn e" transform="matrix(1 0.0005 0 1 1541.75 1466.84)">27</text>
<text class="wd" transform="matrix(0.89 0.0005 0 1 1549.25 1466.84)">Do</text>
<text class="wd" transform="matrix(0.89 0.0005 0 1 1568.85 1466.84)">Je</text>
<text class="dn e" transform="matrix(1 0.0005 0 1 1541.75 1485.44)">28</text>
<text class="wd" transform="matrix(0.89 0.0005 0 1 1549.25 1485.44)">Fr</text>
<text class="wd" transform="matrix(0.89 0.0005 0 1 1568.85 1485.44)">Ve</text>
<text class="dn e" transform="matrix(1 0.0005 0 1 1541.75 1504.04)">29</text>
<text class="wd" transform="matrix(0.89 0.0005 0 1 1549.25 1504.04)">Sa</text>
<text class="wd" transform="matrix(0.89 0.0005 0 1 1568.85 1504.04)">Sa</text>
<text class="dn e" transform="matrix(1 0.0005 0 1 1541.75 1522.64)">30</text>
<text class="wd" transform="matrix(0.89 0.0005 0 1 1549.25 1522.64)">So</text>
<text class="wd" transform="matrix(0.89 0.0005 0 1 1568.85 1522.64)">Di</text>
<text class="ho" transform="matrix(1 0.0005 0 1 1593.35 1522.64)">1. Advent</text>
<text class="mn" transform="matrix(1 0.0005 0 1 1910.98 928.1)">Dezember</text>
<text class="mn" transform="matrix(1 0.0005 0 1 1991.28 928.1)">Décembre</text>
<text class="sm e" style="font-size:8.65px" transform="matrix(1 0.0005 0 1 2241.68 928.1)">21 Arbeitstage</text>
<text class="sm e" transform="matrix(1 0.0005 0 1 2241.68 946.7)">Woche/Semaine</text>
<text class="dn e" transform="matrix(1 0.0005 0 1 1921.18 983.29)">1</text>
<text class="wd" transform="matrix(0.89 0.0005 0 1 1928.68 983.29)">Mo</text>
<text class="wd" transform="matrix(0.89 0.0005 0 1 1948.28 983.29)">Lu</text>
<text class="wk e" transform="matrix(0.93 0.0005 0 1 2239.08 983.49)">49</text>
<text class="dn e" transform="matrix(1 0.0005 0 1 1921.18 1001.89)">2</text>
<text class="wd" transform="matrix(0.89 0.0005 0 1 1928.68 1001.89)">Di</text>
<text class="wd" transform="matrix(0.89 0.0005 0 1 1948.28 1001.89)">Ma</text>
<text class="dn e" transform="matrix(1 0.0005 0 1 1921.18 1020.49)">3</text>
<text class="wd" transform="matrix(0.89 0.0005 0 1 1928.68 1020.49)">Mi</text>
<text class="wd" transform="matrix(0.89 0.0005 0 1 1948.28 1020.49)">Me</text>
<text class="dn e" transform="matrix(1 0.0005 0 1 1921.18 1039.09)">4</text>
<text class="wd" transform="matrix(0.89 0.0005 0 1 1928.68 1039.09)">Do</text>
<text class="wd" transform="matrix(0.89 0.0005 0 1 1948.28 1039.09)">Je</text>
<text class="dn e" transform="matrix(1 0.0005 0 1 1921.18 1057.69)">5</text>
<text class="wd" transform="matrix(0.89 0.0005 0 1 1928.68 1057.69)">Fr</text>
<text class="wd" transform="matrix(0.89 0.0005 0 1 1948.28 1057.69)">Ve</text>
<text class="dn e" transform="matrix(1 0.0005 0 1 1921.18 1076.28)">6</text>
<text class="wd" transform="matrix(0.89 0.0005 0 1 1928.68 1076.28)">Sa</text>
<text class="wd" transform="matrix(0.89 0.0005 0 1 1948.28 1076.28)">Sa</text>
<text class="ho" transform="matrix(1 0.0005 0 1 1972.78 1076.28)">Nikolaus</text>
<text class="dn e" transform="matrix(1 0.0005 0 1 1921.18 1094.88)">7</text>
<text class="wd" transform="matrix(0.89 0.0005 0 1 1928.68 1094.88)">So</text>
<text class="wd" transform="matrix(0.89 0.0005 0 1 1948.28 1094.88)">Di</text>
<text class="ho" transform="matrix(1 0.0005 0 1 1972.78 1094.88)">2. Advent</text>
<text class="dn e" transform="matrix(1 0.0005 0 1 1921.18 1113.48)">8</text>
<text class="wd" transform="matrix(0.89 0.0005 0 1 1928.68 1113.48)">Mo</text>
<text class="wd" transform="matrix(0.89 0.0005 0 1 1948.28 1113.48)">Lu</text>
<text class="wk e" transform="matrix(0.93 0.0005 0 1 2239.08 1113.68)">50</text>
<text class="ho" transform="matrix(1 0.0005 0 1 1972.78 1113.48)">Mariä Empfängnis</text>
<text class="dn e" transform="matrix(1 0.0005 0 1 1921.18 1132.08)">9</text>
<text class="wd" transform="matrix(0.89 0.0005 0 1 1928.68 1132.08)">Di</text>
<text class="wd" transform="matrix(0.89 0.0005 0 1 1948.28 1132.08)">Ma</text>
<text class="dn e" transform="matrix(1 0.0005 0 1 1921.18 1150.68)">10</text>
<text class="wd" transform="matrix(0.89 0.0005 0 1 1928.68 1150.68)">Mi</text>
<text class="wd" transform="matrix(0.89 0.0005 0 1 1948.28 1150.68)">Me</text>
<text class="dn e" transform="matrix(1 0.0005 0 1 1921.18 1169.27)">11</text>
<text class="wd" transform="matrix(0.89 0.0005 0 1 1928.68 1169.27)">Do</text>
<text class="wd" transform="matrix(0.89 0.0005 0 1 1948.28 1169.27)">Je</text>
<text class="dn e" transform="matrix(1 0.0005 0 1 1921.18 1187.87)">12</text>
<text class="wd" transform="matrix(0.89 0.0005 0 1 1928.68 1187.87)">Fr</text>
<text class="wd" transform="matrix(0.89 0.0005 0 1 1948.28 1187.87)">Ve</text>
<text class="dn e" transform="matrix(1 0.0005 0 1 1921.18 1206.47)">13</text>
<text class="wd" transform="matrix(0.89 0.0005 0 1 1928.68 1206.47)">Sa</text>
<text class="wd" transform="matrix(0.89 0.0005 0 1 1948.28 1206.47)">Sa</text>
<text class="dn e" transform="matrix(1 0.0005 0 1 1921.18 1225.07)">14</text>
<text class="wd" transform="matrix(0.89 0.0005 0 1 1928.68 1225.07)">So</text>
<text class="wd" transform="matrix(0.89 0.0005 0 1 1948.28 1225.07)">Di</text>
<text class="ho" transform="matrix(1 0.0005 0 1 1972.78 1225.07)">3. Advent</text>
<text class="dn e" transform="matrix(1 0.0005 0 1 1921.18 1243.67)">15</text>
<text class="wd" transform="matrix(0.89 0.0005 0 1 1928.68 1243.67)">Mo</text>
<text class="wd" transform="matrix(0.89 0.0005 0 1 1948.28 1243.67)">Lu</text>
<text class="wk e" transform="matrix(0.93 0.0005 0 1 2239.08 1243.87)">51</text>
<text class="dn e" transform="matrix(1 0.0005 0 1 1921.18 1262.26)">16</text>
<text class="wd" transform="matrix(0.89 0.0005 0 1 1928.68 1262.26)">Di</text>
<text class="wd" transform="matrix(0.89 0.0005 0 1 1948.28 1262.26)">Ma</text>
<text class="dn e" transform="matrix(1 0.0005 0 1 1921.18 1280.86)">17</text>
<text class="wd" transform="matrix(0.89 0.0005 0 1 1928.68 1280.86)">Mi</text>
<text class="wd" transform="matrix(0.89 0.0005 0 1 1948.28 1280.86)">Me</text>
<text class="dn e" transform="matrix(1 0.0005 0 1 1921.18 1299.46)">18</text>
<text class="wd" transform="matrix(0.89 0.0005 0 1 1928.68 1299.46)">Do</text>
<text class="wd" transform="matrix(0.89 0.0005 0 1 1948.28 1299.46)">Je</text>
<text class="dn e" transform="matrix(1 0.0005 0 1 1921.18 1318.06)">19</text>
<text class="wd" transform="matrix(0.89 0.0005 0 1 1928.68 1318.06)">Fr</text>
<text class="wd" transform="matrix(0.89 0.0005 0 1 1948.28 1318.06)">Ve</text>
<text class="dn e" transform="matrix(1 0.0005 0 1 1921.18 1336.66)">20</text>
<text class="wd" transform="matrix(0.89 0.0005 0 1 1928.68 1336.66)">Sa</text>
<text class="wd" transform="matrix(0.89 0.0005 0 1 1948.28 1336.66)">Sa</text>
<text class="dn e" transform="matrix(1 0.0005 0 1 1921.18 1355.25)">21</text>
<text class="wd" transform="matrix(0.89 0.0005 0 1 1928.68 1355.25)">So</text>
<text class="wd" transform="matrix(0.89 0.0005 0 1 1948.28 1355.25)">Di</text>
<text class="ho" transform="matrix(1 0.0005 0 1 1972.78 1355.25)">4. Advent</text>
<text class="dn e" transform="matrix(1 0.0005 0 1 1921.18 1373.85)">22</text>
<text class="wd" transform="matrix(0.89 0.0005 0 1 1928.68 1373.85)">Mo</text>
<text class="wd" transform="matrix(0.89 0.0005 0 1 1948.28 1373.85)">Lu</text>
<text class="wk e" transform="matrix(0.93 0.0005 0 1 2239.08 1374.05)">52</text>
<text class="ho" transform="matrix(1 0.0005 0 1 1972.78 1373.85)">Winteranfang</text>
<text class="dn e" transform="matrix(1 0.0005 0 1 1921.18 1392.45)">23</text>
<text class="wd" transform="matrix(0.89 0.0005 0 1 1928.68 1392.45)">Di</text>
<text class="wd" transform="matrix(0.89 0.0005 0 1 1948.28 1392.45)">Ma</text>
<text class="dn e" transform="matrix(1 0.0005 0 1 1921.18 1411.05)">24</text>
<text class="wd" transform="matrix(0.89 0.0005 0 1 1928.68 1411.05)">Mi</text>
<text class="wd" transform="matrix(0.89 0.0005 0 1 1948.28 1411.05)">Me</text>
<text class="ho" transform="matrix(1 0.0005 0 1 1972.78 1411.05)">Heiligabend</text>
<text class="dn e" transform="matrix(1 0.0005 0 1 1921.18 1429.65)">25</text>
<text class="wd" transform="matrix(0.89 0.0005 0 1 1928.68 1429.65)">Do</text>
<text class="wd" transform="matrix(0.89 0.0005 0 1 1948.28 1429.65)">Je</text>
<text class="ho" transform="matrix(1 0.0005 0 1 1972.78 1429.65)">1. Weihnachtstag · Noël</text>
<text class="dn e" transform="matrix(1 0.0005 0 1 1921.18 1448.24)">26</text>
<text class="wd" transform="matrix(0.89 0.0005 0 1 1928.68 1448.24)">Fr</text>
<text class="wd" transform="matrix(0.89 0.0005 0 1 1948.28 1448.24)">Ve</text>
<text class="ho" transform="matrix(1 0.0005 0 1 1972.78 1448.24)">2. Weihnachtstag</text>
<text class="dn e" transform="matrix(1 0.0005 0 1 1921.18 1466.84)">27</text>
<text class="wd" transform="matrix(0.89 0.0005 0 1 1928.68 1466.84)">Sa</text>
<text class="wd" transform="matrix(0.89 0.0005 0 1 1948.28 1466.84)">Sa</text>
<text class="dn e" transform="matrix(1 0.0005 0 1 1921.18 1485.44)">28</text>
<text class="wd" transform="matrix(0.89 0.0005 0 1 1928.68 1485.44)">So</text>
<text class="wd" transform="matrix(0.89 0.0005 0 1 1948.28 1485.44)">Di</text>
<text class="dn e" transform="matrix(1 0.0005 0 1 1921.18 1504.04)">29</text>
<text class="wd" transform="matrix(0.89 0.0005 0 1 1928.68 1504.04)">Mo</text>
<text class="wd" transform="matrix(0.89 0.0005 0 1 1948.28 1504.04)">Lu</text>
<text class="wk e" transform="matrix(0.93 0.0005 0 1 2239.08 1504.24)">1</text>
<text class="dn e" transform="matrix(1 0.0005 0 1 1921.18 1522.64)">30</text>
<text class="wd" transform="matrix(0.89 0.0005 0 1 1928.68 1522.64)">Di</text>
<text class="wd" transform="matrix(0.89 0.0005 0 1 1948.28 1522.64)">Ma</text>
<text class="dn e" transform="matrix(1 0.0005 0 1 1921.18 1541.23)">31</text>
<text class="wd" transform="matrix(0.89 0.0005 0 1 1928.68 1541.23)">Mi</text>
<text class="wd" transform="matrix(0.89 0.0005 0 1 1948.28 1541.23)">Me</text>
<text class="ho" transform="matrix(1 0.0005 0 1 1972.78 1541.23)">Silvester</text>
<text class="ft e" transform="matrix(1 0.0005 0 1 2245.3 1617.6)"><tspan font-weight="700" fill="#161616">idé<tspan font-size="5" dy="-2.2">®</tspan><tspan dy="2.2"> Jahresplan Wandplaner</tspan></tspan> · Modell 33650 · © Baier &amp; Schneider GmbH &amp; Co. KG · 74084 Heilbronn · Made in Germany</text>
</svg>
</body>
</html>
